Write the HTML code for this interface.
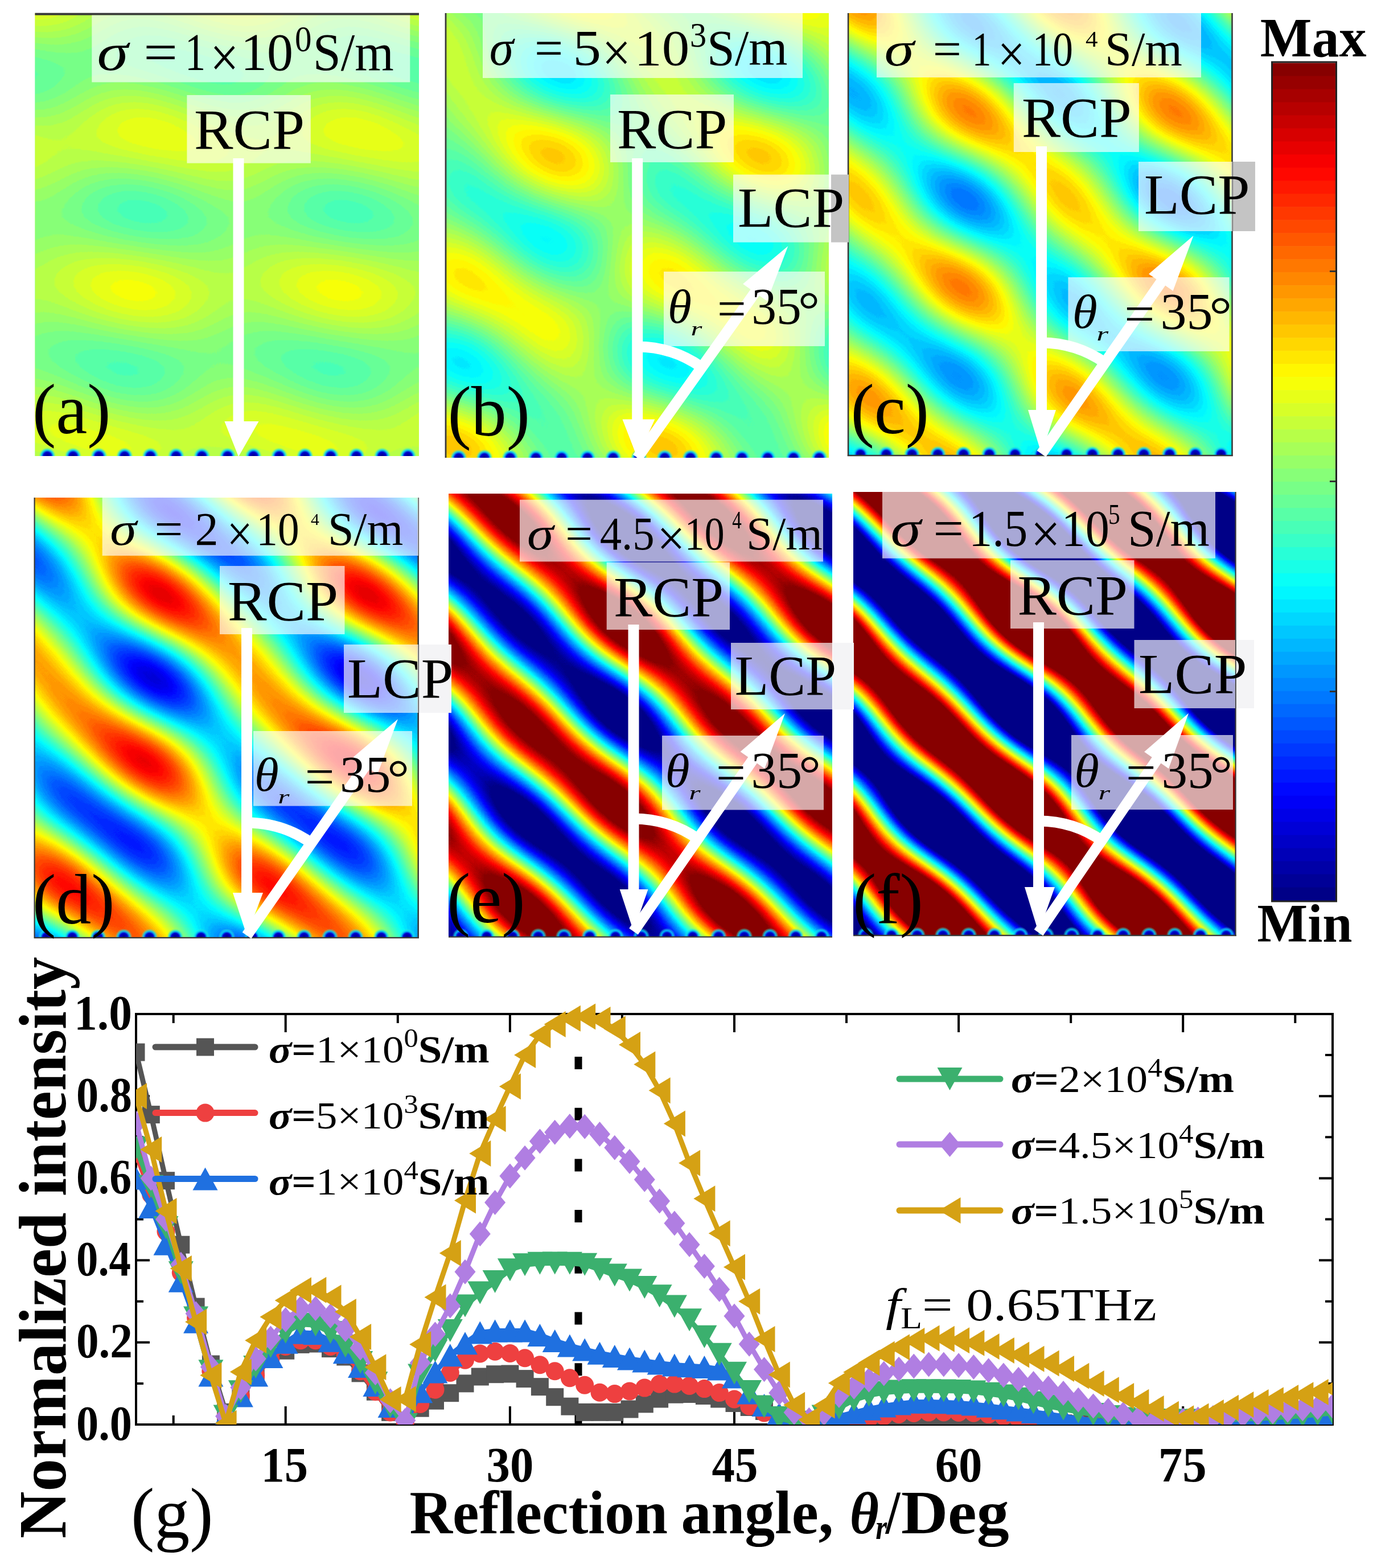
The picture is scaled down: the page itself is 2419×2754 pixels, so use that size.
<!DOCTYPE html><html><head><meta charset="utf-8"><style>html,body{margin:0;padding:0;background:#fff}svg{display:block}text{font-family:"Liberation Serif","Times New Roman",serif}</style></head><body>
<svg width="2419" height="2754" viewBox="0 0 2419 2754">
<defs><linearGradient id="ga0" gradientUnits="userSpaceOnUse" x1="91.50" y1="809.00" x2="255.80" y2="628.77" spreadMethod="repeat"><stop offset="0" stop-color="#636363"/><stop offset=".042" stop-color="#848484"/><stop offset=".083" stop-color="#a5a5a5"/><stop offset=".125" stop-color="#c3c3c3"/><stop offset=".167" stop-color="#dddddd"/><stop offset=".208" stop-color="#f0f0f0"/><stop offset=".25" stop-color="#fcfcfc"/><stop offset=".292" stop-color="#ffffff"/><stop offset=".333" stop-color="#f9f9f9"/><stop offset=".375" stop-color="#ececec"/><stop offset=".417" stop-color="#d6d6d6"/><stop offset=".458" stop-color="#bbbbbb"/><stop offset=".5" stop-color="#9c9c9c"/><stop offset=".542" stop-color="#7b7b7b"/><stop offset=".583" stop-color="#5a5a5a"/><stop offset=".625" stop-color="#3c3c3c"/><stop offset=".667" stop-color="#222222"/><stop offset=".708" stop-color="#0f0f0f"/><stop offset=".75" stop-color="#030303"/><stop offset=".792" stop-color="#000000"/><stop offset=".833" stop-color="#060606"/><stop offset=".875" stop-color="#131313"/><stop offset=".917" stop-color="#292929"/><stop offset=".958" stop-color="#444444"/><stop offset="1" stop-color="#636363"/></linearGradient><linearGradient id="ga1" gradientUnits="userSpaceOnUse" x1="91.50" y1="809.00" x2="91.50" y2="546.00" spreadMethod="repeat"><stop offset="0" stop-color="#cdcdcd"/><stop offset=".042" stop-color="#e4e4e4"/><stop offset=".083" stop-color="#f5f5f5"/><stop offset=".125" stop-color="#fefefe"/><stop offset=".167" stop-color="#fefefe"/><stop offset=".208" stop-color="#f5f5f5"/><stop offset=".25" stop-color="#e5e5e5"/><stop offset=".292" stop-color="#cdcdcd"/><stop offset=".333" stop-color="#b1b1b1"/><stop offset=".375" stop-color="#909090"/><stop offset=".417" stop-color="#6f6f6f"/><stop offset=".458" stop-color="#4f4f4f"/><stop offset=".5" stop-color="#323232"/><stop offset=".542" stop-color="#1b1b1b"/><stop offset=".583" stop-color="#0a0a0a"/><stop offset=".625" stop-color="#010101"/><stop offset=".667" stop-color="#010101"/><stop offset=".708" stop-color="#0a0a0a"/><stop offset=".75" stop-color="#1a1a1a"/><stop offset=".792" stop-color="#323232"/><stop offset=".833" stop-color="#4e4e4e"/><stop offset=".875" stop-color="#6f6f6f"/><stop offset=".917" stop-color="#909090"/><stop offset=".958" stop-color="#b0b0b0"/><stop offset="1" stop-color="#cdcdcd"/></linearGradient><linearGradient id="ga2" gradientUnits="userSpaceOnUse" x1="91.50" y1="809.00" x2="-72.80" y2="628.77" spreadMethod="repeat"><stop offset="0" stop-color="#030303"/><stop offset=".042" stop-color="#0f0f0f"/><stop offset=".083" stop-color="#222222"/><stop offset=".125" stop-color="#3b3b3b"/><stop offset=".167" stop-color="#5a5a5a"/><stop offset=".208" stop-color="#7a7a7a"/><stop offset=".25" stop-color="#9b9b9b"/><stop offset=".292" stop-color="#bbbbbb"/><stop offset=".333" stop-color="#d6d6d6"/><stop offset=".375" stop-color="#ebebeb"/><stop offset=".417" stop-color="#f9f9f9"/><stop offset=".458" stop-color="#ffffff"/><stop offset=".5" stop-color="#fcfcfc"/><stop offset=".542" stop-color="#f0f0f0"/><stop offset=".583" stop-color="#dddddd"/><stop offset=".625" stop-color="#c4c4c4"/><stop offset=".667" stop-color="#a5a5a5"/><stop offset=".708" stop-color="#858585"/><stop offset=".75" stop-color="#646464"/><stop offset=".792" stop-color="#444444"/><stop offset=".833" stop-color="#292929"/><stop offset=".875" stop-color="#141414"/><stop offset=".917" stop-color="#060606"/><stop offset=".958" stop-color="#000000"/><stop offset="1" stop-color="#030303"/></linearGradient><filter id="ja" filterUnits="userSpaceOnUse" x="61.5" y="23" width="674.5" height="778" color-interpolation-filters="sRGB"><feComponentTransfer><feFuncR type="discrete" tableValues=".281 .281 .281 .281 .281 .281 .281 .281 .281 .281 .281 .281 .281 .281 .281 .344 .344 .344 .344 .344 .344 .344 .344 .344 .344 .344 .344 .344 .344 .344 .344 .344 .344 .344 .344 .344 .344 .344 .406 .406 .406 .406 .406 .406 .406 .406 .406 .406 .406 .406 .406 .406 .406 .406 .406 .406 .406 .406 .406 .406 .406 .469 .469 .469 .469 .469 .469 .469 .469 .469 .469 .469 .469 .469 .469 .469 .469 .469 .469 .469 .469 .469 .469 .469 .531 .531 .531 .531 .531 .531 .531 .531 .531 .531 .531 .531 .531 .531 .531 .531 .531 .531 .531 .531 .531 .531 .531 .594 .594 .594 .594 .594 .594 .594 .594 .594 .594 .594 .594 .594 .594 .594 .594 .594 .594 .594 .594 .594 .594 .594 .656 .656 .656 .656 .656 .656 .656 .656 .656 .656 .656 .656 .656 .656 .656 .656 .656 .656 .656 .656 .656 .656 .656 .719 .719 .719 .719 .719 .719 .719 .719 .719 .719 .719 .719 .719 .719 .719 .719 .719 .719 .719 .719 .719 .719 .719 .781 .781 .781 .781 .781 .781 .781 .781 .781 .781 .781 .781 .781 .781 .781 .781 .781 .781 .781 .781 .781 .781 .781 .844 .844 .844 .844 .844 .844 .844 .844 .844 .844 .844 .844 .844 .844 .844 .844 .844 .844 .844 .844 .844 .844 .844 .906 .906 .906 .906 .906 .906 .906 .906 .906 .906 .906 .906 .906 .906 .906 .906 .906 .906 .906 .906 .906 .906 .969 .969 .969 .969 .969 .969 .969 .969 .969 .969 .969 .969"/><feFuncG type="discrete" tableValues="1 1 1 1 1 1 1 1 1 1 1 1 1 1 1 1 1 1 1 1 1 1 1 1 1 1 1 1 1 1 1 1 1 1 1 1 1 1 1 1 1 1 1 1 1 1 1 1 1 1 1 1 1 1 1 1 1 1 1 1 1 1 1 1 1 1 1 1 1 1 1 1 1 1 1 1 1 1 1 1 1 1 1 1 1 1 1 1 1 1 1 1 1 1 1 1 1 1 1 1 1 1 1 1 1 1 1 1 1 1 1 1 1 1 1 1 1 1 1 1 1 1 1 1 1 1 1 1 1 1 1 1 1 1 1 1 1 1 1 1 1 1 1 1 1 1 1 1 1 1 1 1 1 1 1 1 1 1 1 1 1 1 1 1 1 1 1 1 1 1 1 1 1 1 1 1 1 1 1 1 1 1 1 1 1 1 1 1 1 1 1 1 1 1 1 1 1 1 1 1 1 1 1 1 1 1 1 1 1 1 1 1 1 1 1 1 1 1 1 1 1 1 1 1 1 1 1 1 1 1 1 1 1 1 1 1 1 1 1 1 1 1 1 1 1 1 1 1 1 1 1 1 1 1 1 1"/><feFuncB type="discrete" tableValues=".719 .719 .719 .719 .719 .719 .719 .719 .719 .719 .719 .719 .719 .719 .719 .656 .656 .656 .656 .656 .656 .656 .656 .656 .656 .656 .656 .656 .656 .656 .656 .656 .656 .656 .656 .656 .656 .656 .594 .594 .594 .594 .594 .594 .594 .594 .594 .594 .594 .594 .594 .594 .594 .594 .594 .594 .594 .594 .594 .594 .594 .531 .531 .531 .531 .531 .531 .531 .531 .531 .531 .531 .531 .531 .531 .531 .531 .531 .531 .531 .531 .531 .531 .531 .469 .469 .469 .469 .469 .469 .469 .469 .469 .469 .469 .469 .469 .469 .469 .469 .469 .469 .469 .469 .469 .469 .469 .406 .406 .406 .406 .406 .406 .406 .406 .406 .406 .406 .406 .406 .406 .406 .406 .406 .406 .406 .406 .406 .406 .406 .344 .344 .344 .344 .344 .344 .344 .344 .344 .344 .344 .344 .344 .344 .344 .344 .344 .344 .344 .344 .344 .344 .344 .281 .281 .281 .281 .281 .281 .281 .281 .281 .281 .281 .281 .281 .281 .281 .281 .281 .281 .281 .281 .281 .281 .281 .219 .219 .219 .219 .219 .219 .219 .219 .219 .219 .219 .219 .219 .219 .219 .219 .219 .219 .219 .219 .219 .219 .219 .156 .156 .156 .156 .156 .156 .156 .156 .156 .156 .156 .156 .156 .156 .156 .156 .156 .156 .156 .156 .156 .156 .156 .094 .094 .094 .094 .094 .094 .094 .094 .094 .094 .094 .094 .094 .094 .094 .094 .094 .094 .094 .094 .094 .094 .031 .031 .031 .031 .031 .031 .031 .031 .031 .031 .031 .031"/></feComponentTransfer></filter><clipPath id="ca"><rect x="61.5" y="23" width="674.5" height="778"/></clipPath><linearGradient id="gb0" gradientUnits="userSpaceOnUse" x1="802.00" y1="816.00" x2="966.30" y2="635.77" spreadMethod="repeat"><stop offset="0" stop-color="#eaeaea"/><stop offset=".042" stop-color="#f9f9f9"/><stop offset=".083" stop-color="#ffffff"/><stop offset=".125" stop-color="#fcfcfc"/><stop offset=".167" stop-color="#f1f1f1"/><stop offset=".208" stop-color="#dfdfdf"/><stop offset=".25" stop-color="#c6c6c6"/><stop offset=".292" stop-color="#a8a8a8"/><stop offset=".333" stop-color="#878787"/><stop offset=".375" stop-color="#666666"/><stop offset=".417" stop-color="#464646"/><stop offset=".458" stop-color="#2b2b2b"/><stop offset=".5" stop-color="#151515"/><stop offset=".542" stop-color="#060606"/><stop offset=".583" stop-color="#000000"/><stop offset=".625" stop-color="#030303"/><stop offset=".667" stop-color="#0e0e0e"/><stop offset=".708" stop-color="#202020"/><stop offset=".75" stop-color="#393939"/><stop offset=".792" stop-color="#575757"/><stop offset=".833" stop-color="#787878"/><stop offset=".875" stop-color="#999999"/><stop offset=".917" stop-color="#b9b9b9"/><stop offset=".958" stop-color="#d4d4d4"/><stop offset="1" stop-color="#eaeaea"/></linearGradient><linearGradient id="gb1" gradientUnits="userSpaceOnUse" x1="802.00" y1="816.00" x2="802.00" y2="553.00" spreadMethod="repeat"><stop offset="0" stop-color="#e0e0e0"/><stop offset=".042" stop-color="#f2f2f2"/><stop offset=".083" stop-color="#fdfdfd"/><stop offset=".125" stop-color="#ffffff"/><stop offset=".167" stop-color="#f8f8f8"/><stop offset=".208" stop-color="#e9e9e9"/><stop offset=".25" stop-color="#d3d3d3"/><stop offset=".292" stop-color="#b8b8b8"/><stop offset=".333" stop-color="#989898"/><stop offset=".375" stop-color="#777777"/><stop offset=".417" stop-color="#565656"/><stop offset=".458" stop-color="#383838"/><stop offset=".5" stop-color="#1f1f1f"/><stop offset=".542" stop-color="#0d0d0d"/><stop offset=".583" stop-color="#020202"/><stop offset=".625" stop-color="#000000"/><stop offset=".667" stop-color="#070707"/><stop offset=".708" stop-color="#161616"/><stop offset=".75" stop-color="#2c2c2c"/><stop offset=".792" stop-color="#474747"/><stop offset=".833" stop-color="#676767"/><stop offset=".875" stop-color="#888888"/><stop offset=".917" stop-color="#a9a9a9"/><stop offset=".958" stop-color="#c7c7c7"/><stop offset="1" stop-color="#e0e0e0"/></linearGradient><linearGradient id="gb2" gradientUnits="userSpaceOnUse" x1="802.00" y1="816.00" x2="637.70" y2="635.77" spreadMethod="repeat"><stop offset="0" stop-color="#e3e3e3"/><stop offset=".042" stop-color="#f4f4f4"/><stop offset=".083" stop-color="#fdfdfd"/><stop offset=".125" stop-color="#fefefe"/><stop offset=".167" stop-color="#f6f6f6"/><stop offset=".208" stop-color="#e7e7e7"/><stop offset=".25" stop-color="#d0d0d0"/><stop offset=".292" stop-color="#b3b3b3"/><stop offset=".333" stop-color="#939393"/><stop offset=".375" stop-color="#727272"/><stop offset=".417" stop-color="#525252"/><stop offset=".458" stop-color="#343434"/><stop offset=".5" stop-color="#1c1c1c"/><stop offset=".542" stop-color="#0b0b0b"/><stop offset=".583" stop-color="#020202"/><stop offset=".625" stop-color="#010101"/><stop offset=".667" stop-color="#090909"/><stop offset=".708" stop-color="#181818"/><stop offset=".75" stop-color="#2f2f2f"/><stop offset=".792" stop-color="#4c4c4c"/><stop offset=".833" stop-color="#6c6c6c"/><stop offset=".875" stop-color="#8d8d8d"/><stop offset=".917" stop-color="#adadad"/><stop offset=".958" stop-color="#cbcbcb"/><stop offset="1" stop-color="#e3e3e3"/></linearGradient><filter id="jb" filterUnits="userSpaceOnUse" x="784" y="23" width="672" height="781" color-interpolation-filters="sRGB"><feComponentTransfer><feFuncR type="discrete" tableValues="0 0 0 0 0 0 0 0 0 0 0 0 0 0 0 0 0 0 0 0 0 0 .031 .031 .031 .031 .031 .031 .031 .031 .031 .031 .031 .031 .094 .094 .094 .094 .094 .094 .094 .094 .094 .094 .094 .094 .156 .156 .156 .156 .156 .156 .156 .156 .156 .156 .156 .156 .219 .219 .219 .219 .219 .219 .219 .219 .219 .219 .219 .219 .281 .281 .281 .281 .281 .281 .281 .281 .281 .281 .281 .344 .344 .344 .344 .344 .344 .344 .344 .344 .344 .344 .344 .406 .406 .406 .406 .406 .406 .406 .406 .406 .406 .406 .406 .469 .469 .469 .469 .469 .469 .469 .469 .469 .469 .469 .469 .531 .531 .531 .531 .531 .531 .531 .531 .531 .531 .531 .594 .594 .594 .594 .594 .594 .594 .594 .594 .594 .594 .594 .656 .656 .656 .656 .656 .656 .656 .656 .656 .656 .656 .656 .719 .719 .719 .719 .719 .719 .719 .719 .719 .719 .719 .719 .781 .781 .781 .781 .781 .781 .781 .781 .781 .781 .781 .781 .844 .844 .844 .844 .844 .844 .844 .844 .844 .844 .844 .906 .906 .906 .906 .906 .906 .906 .906 .906 .906 .906 .906 .969 .969 .969 .969 .969 .969 .969 .969 .969 .969 .969 .969 1 1 1 1 1 1 1 1 1 1 1 1 1 1 1 1 1 1 1 1 1 1 1 1 1 1 1 1 1 1 1 1 1 1 1 1 1 1 1 1 1 1 1 1 1"/><feFuncG type="discrete" tableValues=".906 .906 .906 .906 .906 .906 .906 .906 .906 .906 .906 .969 .969 .969 .969 .969 .969 .969 .969 .969 .969 .969 1 1 1 1 1 1 1 1 1 1 1 1 1 1 1 1 1 1 1 1 1 1 1 1 1 1 1 1 1 1 1 1 1 1 1 1 1 1 1 1 1 1 1 1 1 1 1 1 1 1 1 1 1 1 1 1 1 1 1 1 1 1 1 1 1 1 1 1 1 1 1 1 1 1 1 1 1 1 1 1 1 1 1 1 1 1 1 1 1 1 1 1 1 1 1 1 1 1 1 1 1 1 1 1 1 1 1 1 1 1 1 1 1 1 1 1 1 1 1 1 1 1 1 1 1 1 1 1 1 1 1 1 1 1 1 1 1 1 1 1 1 1 1 1 1 1 1 1 1 1 1 1 1 1 1 1 1 1 1 1 1 1 1 1 1 1 1 1 1 1 1 1 1 1 1 1 1 1 1 1 1 1 1 1 1 1 1 1 1 .969 .969 .969 .969 .969 .969 .969 .969 .969 .969 .969 .969 .906 .906 .906 .906 .906 .906 .906 .906 .906 .906 .906 .844 .844 .844 .844 .844 .844 .844 .844 .844 .844 .844 .844 .781 .781 .781 .781 .781 .781 .781 .781 .781 .781"/><feFuncB type="discrete" tableValues="1 1 1 1 1 1 1 1 1 1 1 1 1 1 1 1 1 1 1 1 1 1 .969 .969 .969 .969 .969 .969 .969 .969 .969 .969 .969 .969 .906 .906 .906 .906 .906 .906 .906 .906 .906 .906 .906 .906 .844 .844 .844 .844 .844 .844 .844 .844 .844 .844 .844 .844 .781 .781 .781 .781 .781 .781 .781 .781 .781 .781 .781 .781 .719 .719 .719 .719 .719 .719 .719 .719 .719 .719 .719 .656 .656 .656 .656 .656 .656 .656 .656 .656 .656 .656 .656 .594 .594 .594 .594 .594 .594 .594 .594 .594 .594 .594 .594 .531 .531 .531 .531 .531 .531 .531 .531 .531 .531 .531 .531 .469 .469 .469 .469 .469 .469 .469 .469 .469 .469 .469 .406 .406 .406 .406 .406 .406 .406 .406 .406 .406 .406 .406 .344 .344 .344 .344 .344 .344 .344 .344 .344 .344 .344 .344 .281 .281 .281 .281 .281 .281 .281 .281 .281 .281 .281 .281 .219 .219 .219 .219 .219 .219 .219 .219 .219 .219 .219 .219 .156 .156 .156 .156 .156 .156 .156 .156 .156 .156 .156 .094 .094 .094 .094 .094 .094 .094 .094 .094 .094 .094 .094 .031 .031 .031 .031 .031 .031 .031 .031 .031 .031 .031 .031 0 0 0 0 0 0 0 0 0 0 0 0 0 0 0 0 0 0 0 0 0 0 0 0 0 0 0 0 0 0 0 0 0 0 0 0 0 0 0 0 0 0 0 0 0"/></feComponentTransfer></filter><clipPath id="cb"><rect x="784" y="23" width="672" height="781"/></clipPath><linearGradient id="gc0" gradientUnits="userSpaceOnUse" x1="1490.00" y1="798.00" x2="1654.30" y2="617.77" spreadMethod="repeat"><stop offset="0" stop-color="#0d0d0d"/><stop offset=".042" stop-color="#202020"/><stop offset=".083" stop-color="#393939"/><stop offset=".125" stop-color="#575757"/><stop offset=".167" stop-color="#787878"/><stop offset=".208" stop-color="#999999"/><stop offset=".25" stop-color="#b9b9b9"/><stop offset=".292" stop-color="#d4d4d4"/><stop offset=".333" stop-color="#eaeaea"/><stop offset=".375" stop-color="#f8f8f8"/><stop offset=".417" stop-color="#ffffff"/><stop offset=".458" stop-color="#fcfcfc"/><stop offset=".5" stop-color="#f2f2f2"/><stop offset=".542" stop-color="#dfdfdf"/><stop offset=".583" stop-color="#c6c6c6"/><stop offset=".625" stop-color="#a8a8a8"/><stop offset=".667" stop-color="#878787"/><stop offset=".708" stop-color="#666666"/><stop offset=".75" stop-color="#464646"/><stop offset=".792" stop-color="#2b2b2b"/><stop offset=".833" stop-color="#151515"/><stop offset=".875" stop-color="#070707"/><stop offset=".917" stop-color="#000000"/><stop offset=".958" stop-color="#030303"/><stop offset="1" stop-color="#0d0d0d"/></linearGradient><linearGradient id="gc1" gradientUnits="userSpaceOnUse" x1="1490.00" y1="798.00" x2="1490.00" y2="535.00" spreadMethod="repeat"><stop offset="0" stop-color="#adadad"/><stop offset=".042" stop-color="#cacaca"/><stop offset=".083" stop-color="#e2e2e2"/><stop offset=".125" stop-color="#f4f4f4"/><stop offset=".167" stop-color="#fdfdfd"/><stop offset=".208" stop-color="#fefefe"/><stop offset=".25" stop-color="#f7f7f7"/><stop offset=".292" stop-color="#e7e7e7"/><stop offset=".333" stop-color="#d0d0d0"/><stop offset=".375" stop-color="#b4b4b4"/><stop offset=".417" stop-color="#949494"/><stop offset=".458" stop-color="#727272"/><stop offset=".5" stop-color="#525252"/><stop offset=".542" stop-color="#353535"/><stop offset=".583" stop-color="#1d1d1d"/><stop offset=".625" stop-color="#0b0b0b"/><stop offset=".667" stop-color="#020202"/><stop offset=".708" stop-color="#010101"/><stop offset=".75" stop-color="#080808"/><stop offset=".792" stop-color="#181818"/><stop offset=".833" stop-color="#2f2f2f"/><stop offset=".875" stop-color="#4b4b4b"/><stop offset=".917" stop-color="#6b6b6b"/><stop offset=".958" stop-color="#8d8d8d"/><stop offset="1" stop-color="#adadad"/></linearGradient><linearGradient id="gc2" gradientUnits="userSpaceOnUse" x1="1490.00" y1="798.00" x2="1325.70" y2="617.77" spreadMethod="repeat"><stop offset="0" stop-color="#595959"/><stop offset=".042" stop-color="#7a7a7a"/><stop offset=".083" stop-color="#9b9b9b"/><stop offset=".125" stop-color="#bababa"/><stop offset=".167" stop-color="#d6d6d6"/><stop offset=".208" stop-color="#ebebeb"/><stop offset=".25" stop-color="#f9f9f9"/><stop offset=".292" stop-color="#ffffff"/><stop offset=".333" stop-color="#fcfcfc"/><stop offset=".375" stop-color="#f1f1f1"/><stop offset=".417" stop-color="#dedede"/><stop offset=".458" stop-color="#c4c4c4"/><stop offset=".5" stop-color="#a6a6a6"/><stop offset=".542" stop-color="#858585"/><stop offset=".583" stop-color="#646464"/><stop offset=".625" stop-color="#454545"/><stop offset=".667" stop-color="#292929"/><stop offset=".708" stop-color="#141414"/><stop offset=".75" stop-color="#060606"/><stop offset=".792" stop-color="#000000"/><stop offset=".833" stop-color="#030303"/><stop offset=".875" stop-color="#0e0e0e"/><stop offset=".917" stop-color="#212121"/><stop offset=".958" stop-color="#3b3b3b"/><stop offset="1" stop-color="#595959"/></linearGradient><filter id="jc" filterUnits="userSpaceOnUse" x="1490" y="23" width="675" height="777" color-interpolation-filters="sRGB"><feComponentTransfer><feFuncR type="discrete" tableValues="0 0 0 0 0 0 0 0 0 0 0 0 0 0 0 0 0 0 0 0 0 0 0 0 0 0 0 0 0 0 0 0 0 0 0 0 0 0 0 0 0 0 0 0 0 0 0 0 0 0 0 0 0 0 0 0 0 0 0 0 0 0 0 0 0 0 0 0 .031 .031 .031 .031 .031 .031 .031 .094 .094 .094 .094 .094 .094 .094 .094 .156 .156 .156 .156 .156 .156 .156 .219 .219 .219 .219 .219 .219 .219 .219 .281 .281 .281 .281 .281 .281 .281 .344 .344 .344 .344 .344 .344 .344 .344 .406 .406 .406 .406 .406 .406 .406 .469 .469 .469 .469 .469 .469 .469 .469 .531 .531 .531 .531 .531 .531 .531 .531 .594 .594 .594 .594 .594 .594 .594 .656 .656 .656 .656 .656 .656 .656 .656 .719 .719 .719 .719 .719 .719 .719 .781 .781 .781 .781 .781 .781 .781 .781 .844 .844 .844 .844 .844 .844 .844 .906 .906 .906 .906 .906 .906 .906 .906 .969 .969 .969 .969 .969 .969 .969 1 1 1 1 1 1 1 1 1 1 1 1 1 1 1 1 1 1 1 1 1 1 1 1 1 1 1 1 1 1 1 1 1 1 1 1 1 1 1 1 1 1 1 1 1 1 1 1 1 1 1 1 1 1 1 1 1 1 1 1 1 1 1 1 1 1 1 1"/><feFuncG type="discrete" tableValues=".469 .469 .469 .469 .469 .469 .469 .469 .531 .531 .531 .531 .531 .531 .531 .594 .594 .594 .594 .594 .594 .594 .594 .656 .656 .656 .656 .656 .656 .656 .719 .719 .719 .719 .719 .719 .719 .719 .781 .781 .781 .781 .781 .781 .781 .844 .844 .844 .844 .844 .844 .844 .844 .906 .906 .906 .906 .906 .906 .906 .969 .969 .969 .969 .969 .969 .969 .969 1 1 1 1 1 1 1 1 1 1 1 1 1 1 1 1 1 1 1 1 1 1 1 1 1 1 1 1 1 1 1 1 1 1 1 1 1 1 1 1 1 1 1 1 1 1 1 1 1 1 1 1 1 1 1 1 1 1 1 1 1 1 1 1 1 1 1 1 1 1 1 1 1 1 1 1 1 1 1 1 1 1 1 1 1 1 1 1 1 1 1 1 1 1 1 1 1 1 1 1 1 1 1 1 1 1 1 1 1 1 1 1 1 1 1 1 1 1 1 1 .969 .969 .969 .969 .969 .969 .969 .969 .906 .906 .906 .906 .906 .906 .906 .844 .844 .844 .844 .844 .844 .844 .844 .781 .781 .781 .781 .781 .781 .781 .719 .719 .719 .719 .719 .719 .719 .719 .656 .656 .656 .656 .656 .656 .656 .594 .594 .594 .594 .594 .594 .594 .594 .531 .531 .531 .531 .531 .531 .531 .469 .469 .469 .469 .469 .469 .469 .469"/><feFuncB type="discrete" tableValues="1 1 1 1 1 1 1 1 1 1 1 1 1 1 1 1 1 1 1 1 1 1 1 1 1 1 1 1 1 1 1 1 1 1 1 1 1 1 1 1 1 1 1 1 1 1 1 1 1 1 1 1 1 1 1 1 1 1 1 1 1 1 1 1 1 1 1 1 .969 .969 .969 .969 .969 .969 .969 .906 .906 .906 .906 .906 .906 .906 .906 .844 .844 .844 .844 .844 .844 .844 .781 .781 .781 .781 .781 .781 .781 .781 .719 .719 .719 .719 .719 .719 .719 .656 .656 .656 .656 .656 .656 .656 .656 .594 .594 .594 .594 .594 .594 .594 .531 .531 .531 .531 .531 .531 .531 .531 .469 .469 .469 .469 .469 .469 .469 .469 .406 .406 .406 .406 .406 .406 .406 .344 .344 .344 .344 .344 .344 .344 .344 .281 .281 .281 .281 .281 .281 .281 .219 .219 .219 .219 .219 .219 .219 .219 .156 .156 .156 .156 .156 .156 .156 .094 .094 .094 .094 .094 .094 .094 .094 .031 .031 .031 .031 .031 .031 .031 0 0 0 0 0 0 0 0 0 0 0 0 0 0 0 0 0 0 0 0 0 0 0 0 0 0 0 0 0 0 0 0 0 0 0 0 0 0 0 0 0 0 0 0 0 0 0 0 0 0 0 0 0 0 0 0 0 0 0 0 0 0 0 0 0 0 0 0"/></feComponentTransfer></filter><clipPath id="cc"><rect x="1490" y="23" width="675" height="777"/></clipPath><linearGradient id="gd0" gradientUnits="userSpaceOnUse" x1="36.00" y1="1631.00" x2="200.30" y2="1450.77" spreadMethod="repeat"><stop offset="0" stop-color="#020202"/><stop offset=".042" stop-color="#0b0b0b"/><stop offset=".083" stop-color="#1c1c1c"/><stop offset=".125" stop-color="#343434"/><stop offset=".167" stop-color="#525252"/><stop offset=".208" stop-color="#727272"/><stop offset=".25" stop-color="#939393"/><stop offset=".292" stop-color="#b3b3b3"/><stop offset=".333" stop-color="#d0d0d0"/><stop offset=".375" stop-color="#e7e7e7"/><stop offset=".417" stop-color="#f7f7f7"/><stop offset=".458" stop-color="#fefefe"/><stop offset=".5" stop-color="#fdfdfd"/><stop offset=".542" stop-color="#f4f4f4"/><stop offset=".583" stop-color="#e3e3e3"/><stop offset=".625" stop-color="#cbcbcb"/><stop offset=".667" stop-color="#adadad"/><stop offset=".708" stop-color="#8d8d8d"/><stop offset=".75" stop-color="#6c6c6c"/><stop offset=".792" stop-color="#4c4c4c"/><stop offset=".833" stop-color="#2f2f2f"/><stop offset=".875" stop-color="#181818"/><stop offset=".917" stop-color="#080808"/><stop offset=".958" stop-color="#010101"/><stop offset="1" stop-color="#020202"/></linearGradient><linearGradient id="gd1" gradientUnits="userSpaceOnUse" x1="36.00" y1="1631.00" x2="36.00" y2="1368.00" spreadMethod="repeat"><stop offset="0" stop-color="#b2b2b2"/><stop offset=".042" stop-color="#cfcfcf"/><stop offset=".083" stop-color="#e6e6e6"/><stop offset=".125" stop-color="#f6f6f6"/><stop offset=".167" stop-color="#fefefe"/><stop offset=".208" stop-color="#fefefe"/><stop offset=".25" stop-color="#f4f4f4"/><stop offset=".292" stop-color="#e3e3e3"/><stop offset=".333" stop-color="#cbcbcb"/><stop offset=".375" stop-color="#aeaeae"/><stop offset=".417" stop-color="#8e8e8e"/><stop offset=".458" stop-color="#6d6d6d"/><stop offset=".5" stop-color="#4d4d4d"/><stop offset=".542" stop-color="#303030"/><stop offset=".583" stop-color="#191919"/><stop offset=".625" stop-color="#090909"/><stop offset=".667" stop-color="#010101"/><stop offset=".708" stop-color="#010101"/><stop offset=".75" stop-color="#0b0b0b"/><stop offset=".792" stop-color="#1c1c1c"/><stop offset=".833" stop-color="#343434"/><stop offset=".875" stop-color="#515151"/><stop offset=".917" stop-color="#717171"/><stop offset=".958" stop-color="#929292"/><stop offset="1" stop-color="#b2b2b2"/></linearGradient><linearGradient id="gd2" gradientUnits="userSpaceOnUse" x1="36.00" y1="1631.00" x2="-128.30" y2="1450.77" spreadMethod="repeat"><stop offset="0" stop-color="#b5b5b5"/><stop offset=".042" stop-color="#d1d1d1"/><stop offset=".083" stop-color="#e8e8e8"/><stop offset=".125" stop-color="#f7f7f7"/><stop offset=".167" stop-color="#fefefe"/><stop offset=".208" stop-color="#fdfdfd"/><stop offset=".25" stop-color="#f3f3f3"/><stop offset=".292" stop-color="#e2e2e2"/><stop offset=".333" stop-color="#c9c9c9"/><stop offset=".375" stop-color="#acacac"/><stop offset=".417" stop-color="#8b8b8b"/><stop offset=".458" stop-color="#6a6a6a"/><stop offset=".5" stop-color="#4a4a4a"/><stop offset=".542" stop-color="#2e2e2e"/><stop offset=".583" stop-color="#171717"/><stop offset=".625" stop-color="#080808"/><stop offset=".667" stop-color="#010101"/><stop offset=".708" stop-color="#020202"/><stop offset=".75" stop-color="#0c0c0c"/><stop offset=".792" stop-color="#1d1d1d"/><stop offset=".833" stop-color="#363636"/><stop offset=".875" stop-color="#535353"/><stop offset=".917" stop-color="#747474"/><stop offset=".958" stop-color="#959595"/><stop offset="1" stop-color="#b5b5b5"/></linearGradient><filter id="jd" filterUnits="userSpaceOnUse" x="60" y="874" width="675" height="773" color-interpolation-filters="sRGB"><feComponentTransfer><feFuncR type="discrete" tableValues="0 0 0 0 0 0 0 0 0 0 0 0 0 0 0 0 0 0 0 0 0 0 0 0 0 0 0 0 0 0 0 0 0 0 0 0 0 0 0 0 0 0 0 0 0 0 0 0 0 0 0 0 0 0 0 0 0 0 0 0 0 0 0 0 0 0 0 0 0 0 0 0 0 0 0 0 0 0 0 0 0 0 0 0 0 0 0 0 0 0 .031 .031 .031 .031 .094 .094 .094 .094 .094 .156 .156 .156 .156 .156 .219 .219 .219 .219 .219 .281 .281 .281 .281 .281 .344 .344 .344 .344 .406 .406 .406 .406 .406 .469 .469 .469 .469 .469 .531 .531 .531 .531 .531 .594 .594 .594 .594 .594 .656 .656 .656 .656 .719 .719 .719 .719 .719 .781 .781 .781 .781 .781 .844 .844 .844 .844 .844 .906 .906 .906 .906 .906 .969 .969 .969 .969 1 1 1 1 1 1 1 1 1 1 1 1 1 1 1 1 1 1 1 1 1 1 1 1 1 1 1 1 1 1 1 1 1 1 1 1 1 1 1 1 1 1 1 1 1 1 1 1 1 1 1 1 1 1 1 1 1 1 1 1 1 1 1 1 1 1 1 1 1 1 1 1 1 1 1 1 1 .969 .969 .969 .969 .969 .906 .906 .906 .906 .906 .844 .844 .844"/><feFuncG type="discrete" tableValues="0 0 0 0 0 0 0 0 0 0 0 0 0 .031 .031 .031 .031 .094 .094 .094 .094 .094 .156 .156 .156 .156 .156 .219 .219 .219 .219 .219 .281 .281 .281 .281 .281 .344 .344 .344 .344 .344 .406 .406 .406 .406 .469 .469 .469 .469 .469 .531 .531 .531 .531 .531 .594 .594 .594 .594 .594 .656 .656 .656 .656 .656 .719 .719 .719 .719 .781 .781 .781 .781 .781 .844 .844 .844 .844 .844 .906 .906 .906 .906 .906 .969 .969 .969 .969 .969 1 1 1 1 1 1 1 1 1 1 1 1 1 1 1 1 1 1 1 1 1 1 1 1 1 1 1 1 1 1 1 1 1 1 1 1 1 1 1 1 1 1 1 1 1 1 1 1 1 1 1 1 1 1 1 1 1 1 1 1 1 1 1 1 1 1 1 1 1 1 1 1 1 1 1 1 .969 .969 .969 .969 .969 .906 .906 .906 .906 .906 .844 .844 .844 .844 .844 .781 .781 .781 .781 .781 .719 .719 .719 .719 .656 .656 .656 .656 .656 .594 .594 .594 .594 .594 .531 .531 .531 .531 .531 .469 .469 .469 .469 .469 .406 .406 .406 .406 .344 .344 .344 .344 .344 .281 .281 .281 .281 .281 .219 .219 .219 .219 .219 .156 .156 .156 .156 .156 .094 .094 .094 .094 .094 .031 .031 .031 .031 0 0 0 0 0 0 0 0 0 0 0 0 0"/><feFuncB type="discrete" tableValues=".844 .844 .844 .906 .906 .906 .906 .906 .969 .969 .969 .969 .969 1 1 1 1 1 1 1 1 1 1 1 1 1 1 1 1 1 1 1 1 1 1 1 1 1 1 1 1 1 1 1 1 1 1 1 1 1 1 1 1 1 1 1 1 1 1 1 1 1 1 1 1 1 1 1 1 1 1 1 1 1 1 1 1 1 1 1 1 1 1 1 1 1 1 1 1 1 .969 .969 .969 .969 .906 .906 .906 .906 .906 .844 .844 .844 .844 .844 .781 .781 .781 .781 .781 .719 .719 .719 .719 .719 .656 .656 .656 .656 .594 .594 .594 .594 .594 .531 .531 .531 .531 .531 .469 .469 .469 .469 .469 .406 .406 .406 .406 .406 .344 .344 .344 .344 .281 .281 .281 .281 .281 .219 .219 .219 .219 .219 .156 .156 .156 .156 .156 .094 .094 .094 .094 .094 .031 .031 .031 .031 0 0 0 0 0 0 0 0 0 0 0 0 0 0 0 0 0 0 0 0 0 0 0 0 0 0 0 0 0 0 0 0 0 0 0 0 0 0 0 0 0 0 0 0 0 0 0 0 0 0 0 0 0 0 0 0 0 0 0 0 0 0 0 0 0 0 0 0 0 0 0 0 0 0 0 0 0 0 0 0 0 0 0 0 0 0 0 0 0 0"/></feComponentTransfer></filter><clipPath id="cd"><rect x="60" y="874" width="675" height="773"/></clipPath><linearGradient id="ge0" gradientUnits="userSpaceOnUse" x1="788.00" y1="1645.00" x2="952.30" y2="1464.77" spreadMethod="repeat"><stop offset="0" stop-color="#000000"/><stop offset=".042" stop-color="#020202"/><stop offset=".083" stop-color="#0d0d0d"/><stop offset=".125" stop-color="#202020"/><stop offset=".167" stop-color="#393939"/><stop offset=".208" stop-color="#565656"/><stop offset=".25" stop-color="#777777"/><stop offset=".292" stop-color="#989898"/><stop offset=".333" stop-color="#b8b8b8"/><stop offset=".375" stop-color="#d3d3d3"/><stop offset=".417" stop-color="#e9e9e9"/><stop offset=".458" stop-color="#f8f8f8"/><stop offset=".5" stop-color="#ffffff"/><stop offset=".542" stop-color="#fdfdfd"/><stop offset=".583" stop-color="#f2f2f2"/><stop offset=".625" stop-color="#dfdfdf"/><stop offset=".667" stop-color="#c6c6c6"/><stop offset=".708" stop-color="#a9a9a9"/><stop offset=".75" stop-color="#888888"/><stop offset=".792" stop-color="#676767"/><stop offset=".833" stop-color="#474747"/><stop offset=".875" stop-color="#2c2c2c"/><stop offset=".917" stop-color="#161616"/><stop offset=".958" stop-color="#070707"/><stop offset="1" stop-color="#000000"/></linearGradient><linearGradient id="ge1" gradientUnits="userSpaceOnUse" x1="788.00" y1="1645.00" x2="788.00" y2="1382.00" spreadMethod="repeat"><stop offset="0" stop-color="#f6f6f6"/><stop offset=".042" stop-color="#fefefe"/><stop offset=".083" stop-color="#fefefe"/><stop offset=".125" stop-color="#f5f5f5"/><stop offset=".167" stop-color="#e4e4e4"/><stop offset=".208" stop-color="#cccccc"/><stop offset=".25" stop-color="#afafaf"/><stop offset=".292" stop-color="#8f8f8f"/><stop offset=".333" stop-color="#6d6d6d"/><stop offset=".375" stop-color="#4d4d4d"/><stop offset=".417" stop-color="#313131"/><stop offset=".458" stop-color="#191919"/><stop offset=".5" stop-color="#090909"/><stop offset=".542" stop-color="#010101"/><stop offset=".583" stop-color="#010101"/><stop offset=".625" stop-color="#0a0a0a"/><stop offset=".667" stop-color="#1b1b1b"/><stop offset=".708" stop-color="#333333"/><stop offset=".75" stop-color="#505050"/><stop offset=".792" stop-color="#707070"/><stop offset=".833" stop-color="#929292"/><stop offset=".875" stop-color="#b2b2b2"/><stop offset=".917" stop-color="#cecece"/><stop offset=".958" stop-color="#e6e6e6"/><stop offset="1" stop-color="#f6f6f6"/></linearGradient><linearGradient id="ge2" gradientUnits="userSpaceOnUse" x1="788.00" y1="1645.00" x2="623.70" y2="1464.77" spreadMethod="repeat"><stop offset="0" stop-color="#b8b8b8"/><stop offset=".042" stop-color="#999999"/><stop offset=".083" stop-color="#777777"/><stop offset=".125" stop-color="#575757"/><stop offset=".167" stop-color="#393939"/><stop offset=".208" stop-color="#202020"/><stop offset=".25" stop-color="#0d0d0d"/><stop offset=".292" stop-color="#020202"/><stop offset=".333" stop-color="#000000"/><stop offset=".375" stop-color="#070707"/><stop offset=".417" stop-color="#151515"/><stop offset=".458" stop-color="#2b2b2b"/><stop offset=".5" stop-color="#474747"/><stop offset=".542" stop-color="#666666"/><stop offset=".583" stop-color="#888888"/><stop offset=".625" stop-color="#a8a8a8"/><stop offset=".667" stop-color="#c6c6c6"/><stop offset=".708" stop-color="#dfdfdf"/><stop offset=".75" stop-color="#f2f2f2"/><stop offset=".792" stop-color="#fdfdfd"/><stop offset=".833" stop-color="#ffffff"/><stop offset=".875" stop-color="#f8f8f8"/><stop offset=".917" stop-color="#eaeaea"/><stop offset=".958" stop-color="#d4d4d4"/><stop offset="1" stop-color="#b8b8b8"/></linearGradient><filter id="je" filterUnits="userSpaceOnUse" x="788" y="867" width="674" height="779" color-interpolation-filters="sRGB"><feComponentTransfer><feFuncR type="discrete" tableValues="0 0 0 0 0 0 0 0 0 0 0 0 0 0 0 0 0 0 0 0 0 0 0 0 0 0 0 0 0 0 0 0 0 0 0 0 0 0 0 0 0 0 0 0 0 0 0 0 0 0 0 0 0 0 0 0 0 0 0 0 0 0 0 0 0 0 0 0 0 0 0 0 0 0 0 0 0 0 0 0 0 0 0 0 0 0 0 0 0 0 0 0 0 0 0 0 0 0 0 0 0 0 0 0 0 .031 .031 .031 .094 .094 .156 .156 .156 .219 .219 .219 .281 .281 .281 .344 .344 .344 .406 .406 .406 .469 .469 .469 .531 .531 .531 .594 .594 .594 .656 .656 .656 .719 .719 .719 .781 .781 .781 .844 .844 .844 .906 .906 .969 .969 .969 1 1 1 1 1 1 1 1 1 1 1 1 1 1 1 1 1 1 1 1 1 1 1 1 1 1 1 1 1 1 1 1 1 1 1 1 1 1 1 1 1 1 1 1 1 1 1 .969 .969 .969 .906 .906 .906 .844 .844 .844 .781 .781 .781 .719 .719 .719 .656 .656 .656 .594 .594 .594 .531 .531 .531 .531 .531 .531 .531 .531 .531 .531 .531 .531 .531 .531 .531 .531 .531 .531 .531 .531 .531 .531 .531 .531 .531 .531 .531 .531 .531 .531 .531 .531 .531 .531 .531 .531 .531"/><feFuncG type="discrete" tableValues="0 0 0 0 0 0 0 0 0 0 0 0 0 0 0 0 0 0 0 0 0 0 0 0 0 0 0 0 0 0 0 0 0 0 0 0 0 0 0 0 0 0 0 0 0 0 0 0 0 0 0 0 0 0 0 0 0 0 .031 .031 .031 .094 .094 .094 .156 .156 .156 .219 .219 .219 .281 .281 .344 .344 .344 .406 .406 .406 .469 .469 .469 .531 .531 .531 .594 .594 .594 .656 .656 .656 .719 .719 .719 .781 .781 .781 .844 .844 .844 .906 .906 .906 .969 .969 .969 1 1 1 1 1 1 1 1 1 1 1 1 1 1 1 1 1 1 1 1 1 1 1 1 1 1 1 1 1 1 1 1 1 1 1 1 1 1 1 1 1 1 1 1 1 1 .969 .969 .969 .906 .906 .906 .844 .844 .844 .781 .781 .781 .719 .719 .719 .656 .656 .656 .594 .594 .594 .531 .531 .531 .469 .469 .469 .406 .406 .406 .344 .344 .344 .281 .281 .219 .219 .219 .156 .156 .156 .094 .094 .094 .031 .031 .031 0 0 0 0 0 0 0 0 0 0 0 0 0 0 0 0 0 0 0 0 0 0 0 0 0 0 0 0 0 0 0 0 0 0 0 0 0 0 0 0 0 0 0 0 0 0 0 0 0 0 0 0 0 0 0 0 0 0"/><feFuncB type="discrete" tableValues=".531 .531 .531 .531 .531 .531 .531 .531 .531 .531 .531 .531 .531 .531 .531 .531 .531 .531 .531 .531 .531 .531 .531 .531 .531 .531 .531 .531 .531 .531 .531 .531 .531 .531 .531 .531 .531 .594 .594 .594 .656 .656 .656 .719 .719 .719 .781 .781 .781 .844 .844 .844 .906 .906 .906 .969 .969 .969 1 1 1 1 1 1 1 1 1 1 1 1 1 1 1 1 1 1 1 1 1 1 1 1 1 1 1 1 1 1 1 1 1 1 1 1 1 1 1 1 1 1 1 1 1 1 1 .969 .969 .969 .906 .906 .844 .844 .844 .781 .781 .781 .719 .719 .719 .656 .656 .656 .594 .594 .594 .531 .531 .531 .469 .469 .469 .406 .406 .406 .344 .344 .344 .281 .281 .281 .219 .219 .219 .156 .156 .156 .094 .094 .031 .031 .031 0 0 0 0 0 0 0 0 0 0 0 0 0 0 0 0 0 0 0 0 0 0 0 0 0 0 0 0 0 0 0 0 0 0 0 0 0 0 0 0 0 0 0 0 0 0 0 0 0 0 0 0 0 0 0 0 0 0 0 0 0 0 0 0 0 0 0 0 0 0 0 0 0 0 0 0 0 0 0 0 0 0 0 0 0 0 0 0 0 0 0 0 0 0 0 0 0 0 0 0 0 0 0 0 0"/></feComponentTransfer></filter><clipPath id="ce"><rect x="788" y="867" width="674" height="779"/></clipPath><linearGradient id="gf0" gradientUnits="userSpaceOnUse" x1="1499.00" y1="1643.00" x2="1663.30" y2="1462.77" spreadMethod="repeat"><stop offset="0" stop-color="#000000"/><stop offset=".042" stop-color="#020202"/><stop offset=".083" stop-color="#0d0d0d"/><stop offset=".125" stop-color="#202020"/><stop offset=".167" stop-color="#393939"/><stop offset=".208" stop-color="#565656"/><stop offset=".25" stop-color="#777777"/><stop offset=".292" stop-color="#989898"/><stop offset=".333" stop-color="#b8b8b8"/><stop offset=".375" stop-color="#d3d3d3"/><stop offset=".417" stop-color="#e9e9e9"/><stop offset=".458" stop-color="#f8f8f8"/><stop offset=".5" stop-color="#ffffff"/><stop offset=".542" stop-color="#fdfdfd"/><stop offset=".583" stop-color="#f2f2f2"/><stop offset=".625" stop-color="#dfdfdf"/><stop offset=".667" stop-color="#c6c6c6"/><stop offset=".708" stop-color="#a9a9a9"/><stop offset=".75" stop-color="#888888"/><stop offset=".792" stop-color="#676767"/><stop offset=".833" stop-color="#474747"/><stop offset=".875" stop-color="#2c2c2c"/><stop offset=".917" stop-color="#161616"/><stop offset=".958" stop-color="#070707"/><stop offset="1" stop-color="#000000"/></linearGradient><linearGradient id="gf1" gradientUnits="userSpaceOnUse" x1="1499.00" y1="1643.00" x2="1499.00" y2="1380.00" spreadMethod="repeat"><stop offset="0" stop-color="#f6f6f6"/><stop offset=".042" stop-color="#fefefe"/><stop offset=".083" stop-color="#fefefe"/><stop offset=".125" stop-color="#f5f5f5"/><stop offset=".167" stop-color="#e4e4e4"/><stop offset=".208" stop-color="#cccccc"/><stop offset=".25" stop-color="#afafaf"/><stop offset=".292" stop-color="#8f8f8f"/><stop offset=".333" stop-color="#6d6d6d"/><stop offset=".375" stop-color="#4d4d4d"/><stop offset=".417" stop-color="#313131"/><stop offset=".458" stop-color="#191919"/><stop offset=".5" stop-color="#090909"/><stop offset=".542" stop-color="#010101"/><stop offset=".583" stop-color="#010101"/><stop offset=".625" stop-color="#0a0a0a"/><stop offset=".667" stop-color="#1b1b1b"/><stop offset=".708" stop-color="#333333"/><stop offset=".75" stop-color="#505050"/><stop offset=".792" stop-color="#707070"/><stop offset=".833" stop-color="#929292"/><stop offset=".875" stop-color="#b2b2b2"/><stop offset=".917" stop-color="#cecece"/><stop offset=".958" stop-color="#e6e6e6"/><stop offset="1" stop-color="#f6f6f6"/></linearGradient><linearGradient id="gf2" gradientUnits="userSpaceOnUse" x1="1499.00" y1="1643.00" x2="1334.70" y2="1462.77" spreadMethod="repeat"><stop offset="0" stop-color="#b8b8b8"/><stop offset=".042" stop-color="#999999"/><stop offset=".083" stop-color="#777777"/><stop offset=".125" stop-color="#575757"/><stop offset=".167" stop-color="#393939"/><stop offset=".208" stop-color="#202020"/><stop offset=".25" stop-color="#0d0d0d"/><stop offset=".292" stop-color="#020202"/><stop offset=".333" stop-color="#000000"/><stop offset=".375" stop-color="#070707"/><stop offset=".417" stop-color="#151515"/><stop offset=".458" stop-color="#2b2b2b"/><stop offset=".5" stop-color="#474747"/><stop offset=".542" stop-color="#666666"/><stop offset=".583" stop-color="#888888"/><stop offset=".625" stop-color="#a8a8a8"/><stop offset=".667" stop-color="#c6c6c6"/><stop offset=".708" stop-color="#dfdfdf"/><stop offset=".75" stop-color="#f2f2f2"/><stop offset=".792" stop-color="#fdfdfd"/><stop offset=".833" stop-color="#ffffff"/><stop offset=".875" stop-color="#f8f8f8"/><stop offset=".917" stop-color="#eaeaea"/><stop offset=".958" stop-color="#d4d4d4"/><stop offset="1" stop-color="#b8b8b8"/></linearGradient><filter id="jf" filterUnits="userSpaceOnUse" x="1499" y="864" width="672" height="779" color-interpolation-filters="sRGB"><feComponentTransfer><feFuncR type="discrete" tableValues="0 0 0 0 0 0 0 0 0 0 0 0 0 0 0 0 0 0 0 0 0 0 0 0 0 0 0 0 0 0 0 0 0 0 0 0 0 0 0 0 0 0 0 0 0 0 0 0 0 0 0 0 0 0 0 0 0 0 0 0 0 0 0 0 0 0 0 0 0 0 0 0 0 0 0 0 0 0 0 0 0 0 0 0 0 0 0 0 0 0 0 0 0 0 0 0 0 0 0 0 0 0 0 0 0 0 0 0 0 0 0 0 .031 .031 .094 .094 .156 .156 .219 .219 .281 .281 .344 .344 .406 .406 .469 .469 .531 .531 .594 .594 .656 .656 .719 .719 .781 .781 .844 .844 .906 .906 .969 .969 1 1 1 1 1 1 1 1 1 1 1 1 1 1 1 1 1 1 1 1 1 1 1 1 1 1 1 1 1 1 1 1 1 .969 .969 .906 .906 .844 .844 .781 .781 .719 .719 .656 .656 .594 .594 .531 .531 .531 .531 .531 .531 .531 .531 .531 .531 .531 .531 .531 .531 .531 .531 .531 .531 .531 .531 .531 .531 .531 .531 .531 .531 .531 .531 .531 .531 .531 .531 .531 .531 .531 .531 .531 .531 .531 .531 .531 .531 .531 .531 .531 .531 .531 .531 .531 .531 .531 .531 .531 .531 .531 .531 .531 .531 .531 .531 .531 .531 .531 .531 .531"/><feFuncG type="discrete" tableValues="0 0 0 0 0 0 0 0 0 0 0 0 0 0 0 0 0 0 0 0 0 0 0 0 0 0 0 0 0 0 0 0 0 0 0 0 0 0 0 0 0 0 0 0 0 0 0 0 0 0 0 0 0 0 0 0 0 0 0 0 0 0 0 0 0 0 0 0 0 0 0 0 0 0 0 0 0 0 0 .031 .031 .094 .094 .156 .156 .219 .219 .281 .281 .344 .344 .406 .406 .469 .469 .531 .531 .594 .594 .656 .656 .719 .719 .781 .781 .844 .844 .844 .906 .906 .969 .969 1 1 1 1 1 1 1 1 1 1 1 1 1 1 1 1 1 1 1 1 1 1 1 1 1 1 1 1 1 1 1 1 .969 .969 .906 .906 .844 .844 .844 .781 .781 .719 .719 .656 .656 .594 .594 .531 .531 .469 .469 .406 .406 .344 .344 .281 .281 .219 .219 .156 .156 .094 .094 .031 .031 0 0 0 0 0 0 0 0 0 0 0 0 0 0 0 0 0 0 0 0 0 0 0 0 0 0 0 0 0 0 0 0 0 0 0 0 0 0 0 0 0 0 0 0 0 0 0 0 0 0 0 0 0 0 0 0 0 0 0 0 0 0 0 0 0 0 0 0 0 0 0 0 0 0 0 0 0 0 0"/><feFuncB type="discrete" tableValues=".531 .531 .531 .531 .531 .531 .531 .531 .531 .531 .531 .531 .531 .531 .531 .531 .531 .531 .531 .531 .531 .531 .531 .531 .531 .531 .531 .531 .531 .531 .531 .531 .531 .531 .531 .531 .531 .531 .531 .531 .531 .531 .531 .531 .531 .531 .531 .531 .531 .531 .531 .531 .531 .531 .531 .531 .531 .531 .531 .531 .531 .531 .531 .531 .531 .594 .594 .656 .656 .719 .719 .781 .781 .844 .844 .906 .906 .969 .969 1 1 1 1 1 1 1 1 1 1 1 1 1 1 1 1 1 1 1 1 1 1 1 1 1 1 1 1 1 1 1 1 1 .969 .969 .906 .906 .844 .844 .781 .781 .719 .719 .656 .656 .594 .594 .531 .531 .469 .469 .406 .406 .344 .344 .281 .281 .219 .219 .156 .156 .094 .094 .031 .031 0 0 0 0 0 0 0 0 0 0 0 0 0 0 0 0 0 0 0 0 0 0 0 0 0 0 0 0 0 0 0 0 0 0 0 0 0 0 0 0 0 0 0 0 0 0 0 0 0 0 0 0 0 0 0 0 0 0 0 0 0 0 0 0 0 0 0 0 0 0 0 0 0 0 0 0 0 0 0 0 0 0 0 0 0 0 0 0 0 0 0 0 0 0 0 0 0 0 0 0 0 0 0 0 0 0 0 0 0 0 0 0"/></feComponentTransfer></filter><clipPath id="cf"><rect x="1499" y="864" width="672" height="779"/></clipPath><radialGradient id="dot"><stop offset="0" stop-color="#000080"/><stop offset=".45" stop-color="#0000d0"/><stop offset=".7" stop-color="#00c8ff" stop-opacity=".9"/><stop offset="1" stop-color="#40ffc0" stop-opacity="0"/></radialGradient></defs>
<rect width="2419" height="2754" fill="#fff"/>
<g filter="url(#ja)"><rect x="61.5" y="23" width="674.5" height="778" fill="url(#ga0)"/><rect x="61.5" y="23" width="674.5" height="778" fill="url(#ga1)" opacity=".69"/><rect x="61.5" y="23" width="674.5" height="778" fill="url(#ga2)" opacity=".094"/></g>
<g clip-path="url(#ca)"><circle cx="83.2" cy="801" r="15" fill="url(#dot)"/><circle cx="128.4" cy="801" r="15" fill="url(#dot)"/><circle cx="173.7" cy="801" r="15" fill="url(#dot)"/><circle cx="218.9" cy="801" r="15" fill="url(#dot)"/><circle cx="264.2" cy="801" r="15" fill="url(#dot)"/><circle cx="309.4" cy="801" r="15" fill="url(#dot)"/><circle cx="354.7" cy="801" r="15" fill="url(#dot)"/><circle cx="399.9" cy="801" r="15" fill="url(#dot)"/><circle cx="445.2" cy="801" r="15" fill="url(#dot)"/><circle cx="490.4" cy="801" r="15" fill="url(#dot)"/><circle cx="535.7" cy="801" r="15" fill="url(#dot)"/><circle cx="580.9" cy="801" r="15" fill="url(#dot)"/><circle cx="626.2" cy="801" r="15" fill="url(#dot)"/><circle cx="671.4" cy="801" r="15" fill="url(#dot)"/><circle cx="716.7" cy="801" r="15" fill="url(#dot)"/></g>
<g filter="url(#jb)"><rect x="784" y="23" width="672" height="781" fill="url(#gb0)"/><rect x="784" y="23" width="672" height="781" fill="url(#gb1)" opacity=".395"/><rect x="784" y="23" width="672" height="781" fill="url(#gb2)" opacity=".162"/></g>
<g clip-path="url(#cb)"><circle cx="805.7" cy="804" r="15" fill="url(#dot)"/><circle cx="851" cy="804" r="15" fill="url(#dot)"/><circle cx="896.2" cy="804" r="15" fill="url(#dot)"/><circle cx="941.5" cy="804" r="15" fill="url(#dot)"/><circle cx="986.7" cy="804" r="15" fill="url(#dot)"/><circle cx="1032" cy="804" r="15" fill="url(#dot)"/><circle cx="1077.2" cy="804" r="15" fill="url(#dot)"/><circle cx="1122.5" cy="804" r="15" fill="url(#dot)"/><circle cx="1167.7" cy="804" r="15" fill="url(#dot)"/><circle cx="1213" cy="804" r="15" fill="url(#dot)"/><circle cx="1258.2" cy="804" r="15" fill="url(#dot)"/><circle cx="1303.5" cy="804" r="15" fill="url(#dot)"/><circle cx="1348.7" cy="804" r="15" fill="url(#dot)"/><circle cx="1394" cy="804" r="15" fill="url(#dot)"/><circle cx="1439.2" cy="804" r="15" fill="url(#dot)"/></g>
<g filter="url(#jc)"><rect x="1490" y="23" width="675" height="777" fill="url(#gc0)"/><rect x="1490" y="23" width="675" height="777" fill="url(#gc1)" opacity=".186"/><rect x="1490" y="23" width="675" height="777" fill="url(#gc2)" opacity=".161"/></g>
<g clip-path="url(#cc)"><circle cx="1511.7" cy="798" r="15" fill="url(#dot)"/><circle cx="1557" cy="798" r="15" fill="url(#dot)"/><circle cx="1602.2" cy="798" r="15" fill="url(#dot)"/><circle cx="1647.5" cy="798" r="15" fill="url(#dot)"/><circle cx="1692.7" cy="798" r="15" fill="url(#dot)"/><circle cx="1738" cy="798" r="15" fill="url(#dot)"/><circle cx="1783.2" cy="798" r="15" fill="url(#dot)"/><circle cx="1828.5" cy="798" r="15" fill="url(#dot)"/><circle cx="1873.7" cy="798" r="15" fill="url(#dot)"/><circle cx="1919" cy="798" r="15" fill="url(#dot)"/><circle cx="1964.2" cy="798" r="15" fill="url(#dot)"/><circle cx="2009.5" cy="798" r="15" fill="url(#dot)"/><circle cx="2054.7" cy="798" r="15" fill="url(#dot)"/><circle cx="2099.9" cy="798" r="15" fill="url(#dot)"/><circle cx="2145.2" cy="798" r="15" fill="url(#dot)"/></g>
<g filter="url(#jd)"><rect x="60" y="874" width="675" height="773" fill="url(#gd0)"/><rect x="60" y="874" width="675" height="773" fill="url(#gd1)" opacity=".254"/><rect x="60" y="874" width="675" height="773" fill="url(#gd2)" opacity=".091"/></g>
<g clip-path="url(#cd)"><circle cx="81.7" cy="1646" r="15" fill="url(#dot)"/><circle cx="127" cy="1646" r="15" fill="url(#dot)"/><circle cx="172.2" cy="1646" r="15" fill="url(#dot)"/><circle cx="217.4" cy="1646" r="15" fill="url(#dot)"/><circle cx="262.7" cy="1646" r="15" fill="url(#dot)"/><circle cx="307.9" cy="1646" r="15" fill="url(#dot)"/><circle cx="353.2" cy="1646" r="15" fill="url(#dot)"/><circle cx="398.4" cy="1646" r="15" fill="url(#dot)"/><circle cx="443.7" cy="1646" r="15" fill="url(#dot)"/><circle cx="488.9" cy="1646" r="15" fill="url(#dot)"/><circle cx="534.2" cy="1646" r="15" fill="url(#dot)"/><circle cx="579.5" cy="1646" r="15" fill="url(#dot)"/><circle cx="624.7" cy="1646" r="15" fill="url(#dot)"/><circle cx="670" cy="1646" r="15" fill="url(#dot)"/><circle cx="715.2" cy="1646" r="15" fill="url(#dot)"/></g>
<g filter="url(#je)"><rect x="788" y="867" width="674" height="779" fill="url(#ge0)"/><rect x="788" y="867" width="674" height="779" fill="url(#ge1)" opacity=".095"/><rect x="788" y="867" width="674" height="779" fill="url(#ge2)" opacity=".096"/></g>
<g clip-path="url(#ce)"><circle cx="809.7" cy="1645" r="15" fill="url(#dot)"/><circle cx="855" cy="1645" r="15" fill="url(#dot)"/><circle cx="900.2" cy="1645" r="15" fill="url(#dot)"/><circle cx="945.5" cy="1645" r="15" fill="url(#dot)"/><circle cx="990.7" cy="1645" r="15" fill="url(#dot)"/><circle cx="1036" cy="1645" r="15" fill="url(#dot)"/><circle cx="1081.2" cy="1645" r="15" fill="url(#dot)"/><circle cx="1126.5" cy="1645" r="15" fill="url(#dot)"/><circle cx="1171.7" cy="1645" r="15" fill="url(#dot)"/><circle cx="1217" cy="1645" r="15" fill="url(#dot)"/><circle cx="1262.2" cy="1645" r="15" fill="url(#dot)"/><circle cx="1307.5" cy="1645" r="15" fill="url(#dot)"/><circle cx="1352.7" cy="1645" r="15" fill="url(#dot)"/><circle cx="1398" cy="1645" r="15" fill="url(#dot)"/><circle cx="1443.2" cy="1645" r="15" fill="url(#dot)"/></g>
<g filter="url(#jf)"><rect x="1499" y="864" width="672" height="779" fill="url(#gf0)"/><rect x="1499" y="864" width="672" height="779" fill="url(#gf1)" opacity=".095"/><rect x="1499" y="864" width="672" height="779" fill="url(#gf2)" opacity=".096"/></g>
<g clip-path="url(#cf)"><circle cx="1520.7" cy="1643" r="15" fill="url(#dot)"/><circle cx="1566" cy="1643" r="15" fill="url(#dot)"/><circle cx="1611.2" cy="1643" r="15" fill="url(#dot)"/><circle cx="1656.5" cy="1643" r="15" fill="url(#dot)"/><circle cx="1701.7" cy="1643" r="15" fill="url(#dot)"/><circle cx="1747" cy="1643" r="15" fill="url(#dot)"/><circle cx="1792.2" cy="1643" r="15" fill="url(#dot)"/><circle cx="1837.5" cy="1643" r="15" fill="url(#dot)"/><circle cx="1882.7" cy="1643" r="15" fill="url(#dot)"/><circle cx="1928" cy="1643" r="15" fill="url(#dot)"/><circle cx="1973.2" cy="1643" r="15" fill="url(#dot)"/><circle cx="2018.5" cy="1643" r="15" fill="url(#dot)"/><circle cx="2063.7" cy="1643" r="15" fill="url(#dot)"/><circle cx="2108.9" cy="1643" r="15" fill="url(#dot)"/><circle cx="2154.2" cy="1643" r="15" fill="url(#dot)"/></g>
<rect x="61.5" y="22.7" width="674.5" height="4" fill="#3a3a3a"/>
<rect x="781.6" y="23" width="2.8" height="781" fill="#3a3a3a"/>
<rect x="1488.8" y="23" width="2.6" height="778" fill="#3a3a3a"/>
<rect x="1488.8" y="798.8" width="677" height="2.5" fill="#3a3a3a"/>
<rect x="2163.2" y="23" width="2.6" height="778" fill="#3a3a3a"/>
<rect x="60" y="1645.8" width="676" height="2.4" fill="#3a3a3a"/>
<rect x="733.4" y="874" width="2.6" height="774" fill="#3a3a3a"/>
<rect x="59.5" y="874" width="2.2" height="774" fill="#3a3a3a"/>
<rect x="788" y="1644.5" width="674" height="2.2" fill="#3a3a3a"/>
<rect x="1499" y="1641.8" width="673" height="2.4" fill="#3a3a3a"/>
<rect x="2169.5" y="864" width="2.2" height="780" fill="#3a3a3a"/>
<rect x="161.3" y="26.7" width="559" height="117.7" fill="#fff" fill-opacity=".66"/><rect x="328.4" y="167" width="217.4" height="119.6" fill="#fff" fill-opacity=".66"/><path d="M409.5 278H428.5V740H454.5L419 802L394.4 740H409.5Z" fill="#fff"/><text x="170.4" y="122.7" font-size="93" font-style="italic" textLength="54.8" lengthAdjust="spacingAndGlyphs">σ</text><text x="252.3" y="122.7" font-size="93" textLength="59.8" lengthAdjust="spacingAndGlyphs">=</text><text x="324.7" y="122.7" font-size="93" textLength="36.6" lengthAdjust="spacingAndGlyphs">1</text><text x="369" y="135" font-size="102.1" textLength="50.5" lengthAdjust="spacingAndGlyphs">×</text><text x="423.1" y="122.7" font-size="93" textLength="91.9" lengthAdjust="spacingAndGlyphs">10</text><text x="549.8" y="122.7" font-size="93" textLength="142" lengthAdjust="spacingAndGlyphs">S/m</text><text x="518.1" y="89.5" font-size="63.6" textLength="29.5" lengthAdjust="spacingAndGlyphs">0</text><text x="340.9" y="260.7" font-size="100" textLength="194.2" lengthAdjust="spacingAndGlyphs">RCP</text><text x="57" y="761" font-size="124">(a)</text>
<rect x="848" y="23" width="562" height="114" fill="#fff" fill-opacity=".66"/><rect x="1072" y="166" width="217" height="119" fill="#fff" fill-opacity=".66"/><rect x="1288" y="306.6" width="172" height="119" fill="#fff" fill-opacity=".66"/><rect x="1460" y="306.6" width="31" height="119" fill="#c4c4c4"/><rect x="1166" y="477" width="283" height="131" fill="#fff" fill-opacity=".66"/><path d="M1127.4 809.5L1334 519.3L1347.5 528.8L1384.3 432.3L1305.1 498.7L1318.6 508.3L1112 798.5Z" fill="#fff"/><path d="M1119.7 609A195 195 0 0 1 1231.5 644.3" fill="none" stroke="#fff" stroke-width="19"/><path d="M1110.2 278H1129.2V736.5H1150.3L1119.7 804.5L1093.5 736.5H1110.2Z" fill="#fff"/><text x="859.7" y="113.6" font-size="89" font-style="italic" textLength="42.3" lengthAdjust="spacingAndGlyphs">σ</text><text x="939" y="113.6" font-size="89" textLength="50.2" lengthAdjust="spacingAndGlyphs">=</text><text x="1006.4" y="113.6" font-size="89" textLength="49.4" lengthAdjust="spacingAndGlyphs">5</text><text x="1057.6" y="125.4" font-size="97.7" textLength="50.8" lengthAdjust="spacingAndGlyphs">×</text><text x="1114.3" y="113.6" font-size="89" textLength="97" lengthAdjust="spacingAndGlyphs">10</text><text x="1242.1" y="113.6" font-size="89" textLength="141.4" lengthAdjust="spacingAndGlyphs">S/m</text><text x="1212.1" y="82" font-size="60.6" textLength="29.1" lengthAdjust="spacingAndGlyphs">3</text><text x="1083.9" y="260" font-size="100" textLength="193.7" lengthAdjust="spacingAndGlyphs">RCP</text><text x="1295.9" y="398" font-size="100" textLength="187.5" lengthAdjust="spacingAndGlyphs">LCP</text><text x="1172.9" y="567" font-size="84" font-style="italic" textLength="41.9" lengthAdjust="spacingAndGlyphs">θ</text><text x="1213.5" y="589" font-size="34" font-style="italic" textLength="19.9" lengthAdjust="spacingAndGlyphs">r</text><text x="1260.1" y="573" font-size="92" textLength="50.7" lengthAdjust="spacingAndGlyphs">=</text><text x="1320.2" y="569" font-size="92" textLength="87.6" lengthAdjust="spacingAndGlyphs">35</text><text x="1401.9" y="575" font-size="92" textLength="38.1" lengthAdjust="spacingAndGlyphs">°</text><text x="786.5" y="765" font-size="124">(b)</text>
<rect x="1540" y="23" width="570" height="113" fill="#fff" fill-opacity=".66"/><rect x="1780.8" y="146" width="220.1" height="121" fill="#fff" fill-opacity=".66"/><rect x="2000" y="284" width="165" height="122" fill="#fff" fill-opacity=".66"/><rect x="2166" y="284" width="39" height="122" fill="#c4c4c4"/><rect x="1876.4" y="487" width="283.2" height="130" fill="#fff" fill-opacity=".66"/><path d="M1837.3 802.4L2047.1 501.5L2060.6 510.9L2096.5 414L2018 481.2L2031.5 490.6L1821.7 791.6Z" fill="#fff"/><path d="M1829.5 602A195 195 0 0 1 1941.3 637.3" fill="none" stroke="#fff" stroke-width="19"/><path d="M1820 257H1839V720H1855L1829.5 797L1806 720H1820Z" fill="#fff"/><text x="1553.5" y="115" font-size="85" font-style="italic" textLength="52.2" lengthAdjust="spacingAndGlyphs">σ</text><text x="1638.8" y="115" font-size="85" textLength="50.3" lengthAdjust="spacingAndGlyphs">=</text><text x="1707.4" y="115" font-size="85" textLength="34" lengthAdjust="spacingAndGlyphs">1</text><text x="1752.6" y="126.3" font-size="93.3" textLength="48.3" lengthAdjust="spacingAndGlyphs">×</text><text x="1813.6" y="115" font-size="85" textLength="71.4" lengthAdjust="spacingAndGlyphs">10</text><text x="1941" y="115" font-size="85" textLength="135.9" lengthAdjust="spacingAndGlyphs">S/m</text><text x="1906.9" y="82" font-size="40.9" textLength="21.5" lengthAdjust="spacingAndGlyphs">4</text><text x="1794.9" y="240" font-size="100" textLength="192.8" lengthAdjust="spacingAndGlyphs">RCP</text><text x="2010" y="374.5" font-size="100" textLength="185.5" lengthAdjust="spacingAndGlyphs">LCP</text><text x="1883.7" y="576" font-size="84" font-style="italic" textLength="44" lengthAdjust="spacingAndGlyphs">θ</text><text x="1926.3" y="598" font-size="34" font-style="italic" textLength="20.9" lengthAdjust="spacingAndGlyphs">r</text><text x="1975.3" y="582" font-size="92" textLength="53.2" lengthAdjust="spacingAndGlyphs">=</text><text x="2038.4" y="578" font-size="92" textLength="92" lengthAdjust="spacingAndGlyphs">35</text><text x="2124.2" y="584" font-size="92" textLength="40" lengthAdjust="spacingAndGlyphs">°</text><text x="1494.5" y="761" font-size="124">(c)</text>
<rect x="179.7" y="874" width="555.3" height="102" fill="#fff" fill-opacity=".66"/><rect x="386" y="994" width="219.5" height="120" fill="#fff" fill-opacity=".66"/><rect x="604" y="1132" width="131" height="120" fill="#fff" fill-opacity=".66"/><rect x="736" y="1132" width="57" height="120" fill="#f4f4f6"/><rect x="445" y="1284" width="279" height="131.6" fill="#fff" fill-opacity=".66"/><path d="M441.3 1648.4L649.5 1350.4L663 1359.9L699 1263L620.4 1330.1L633.9 1339.5L425.7 1637.6Z" fill="#fff"/><path d="M433.5 1445A198 198 0 0 1 547.1 1480.8" fill="none" stroke="#fff" stroke-width="19"/><path d="M424 1103H443V1568H462L433.5 1643L409 1568H424Z" fill="#fff"/><text x="193.2" y="957.4" font-size="82" font-style="italic" textLength="46.6" lengthAdjust="spacingAndGlyphs">σ</text><text x="271.4" y="957.4" font-size="82" textLength="49.8" lengthAdjust="spacingAndGlyphs">=</text><text x="342.5" y="957.4" font-size="82" textLength="41.1" lengthAdjust="spacingAndGlyphs">2</text><text x="398.6" y="968.3" font-size="90" textLength="45.3" lengthAdjust="spacingAndGlyphs">×</text><text x="450.3" y="957.4" font-size="82" textLength="75.3" lengthAdjust="spacingAndGlyphs">10</text><text x="576" y="957.4" font-size="82" textLength="132.2" lengthAdjust="spacingAndGlyphs">S/m</text><text x="546" y="922" font-size="30.3" textLength="14.8" lengthAdjust="spacingAndGlyphs">4</text><text x="399.9" y="1089.4" font-size="100" textLength="194.2" lengthAdjust="spacingAndGlyphs">RCP</text><text x="609.9" y="1224.7" font-size="100" textLength="186.5" lengthAdjust="spacingAndGlyphs">LCP</text><text x="446.9" y="1389" font-size="84" font-style="italic" textLength="42.7" lengthAdjust="spacingAndGlyphs">θ</text><text x="488.2" y="1411" font-size="34" font-style="italic" textLength="20.2" lengthAdjust="spacingAndGlyphs">r</text><text x="535.7" y="1395" font-size="92" textLength="51.7" lengthAdjust="spacingAndGlyphs">=</text><text x="597" y="1391" font-size="92" textLength="89.3" lengthAdjust="spacingAndGlyphs">35</text><text x="680.2" y="1397" font-size="92" textLength="38.8" lengthAdjust="spacingAndGlyphs">°</text><text x="57" y="1622" font-size="124">(d)</text>
<rect x="913" y="877.7" width="533" height="108.7" fill="#fff" fill-opacity=".66"/><rect x="1065.7" y="987.6" width="216.3" height="118.4" fill="#fff" fill-opacity=".66"/><rect x="1284" y="1129" width="178" height="117" fill="#fff" fill-opacity=".66"/><rect x="1463" y="1129" width="37" height="117" fill="#f4f4f6"/><rect x="1163" y="1292" width="284" height="130.5" fill="#fff" fill-opacity=".66"/><path d="M1120.8 1641.4L1329.8 1340.6L1343.3 1350L1379 1253L1300.6 1320.3L1314.2 1329.7L1105.2 1630.6Z" fill="#fff"/><path d="M1113 1438A198 198 0 0 1 1226.6 1473.8" fill="none" stroke="#fff" stroke-width="19"/><path d="M1103.5 1097H1122.5V1562H1138.5L1113 1636L1088.7 1562H1103.5Z" fill="#fff"/><text x="926.1" y="965" font-size="83" font-style="italic" textLength="46.3" lengthAdjust="spacingAndGlyphs">σ</text><text x="993.2" y="965" font-size="83" textLength="47.7" lengthAdjust="spacingAndGlyphs">=</text><text x="1053.7" y="965" font-size="83" textLength="95.8" lengthAdjust="spacingAndGlyphs">4.5</text><text x="1154.3" y="976" font-size="91.1" textLength="49.3" lengthAdjust="spacingAndGlyphs">×</text><text x="1202.8" y="965" font-size="83" textLength="69.7" lengthAdjust="spacingAndGlyphs">10</text><text x="1311" y="965" font-size="83" textLength="133.8" lengthAdjust="spacingAndGlyphs">S/m</text><text x="1286.2" y="928" font-size="43.9" textLength="16.5" lengthAdjust="spacingAndGlyphs">4</text><text x="1077.9" y="1081.5" font-size="100" textLength="193.2" lengthAdjust="spacingAndGlyphs">RCP</text><text x="1290.7" y="1220" font-size="100" textLength="178.6" lengthAdjust="spacingAndGlyphs">LCP</text><text x="1168.8" y="1382" font-size="84" font-style="italic" textLength="42.8" lengthAdjust="spacingAndGlyphs">θ</text><text x="1210.3" y="1404" font-size="34" font-style="italic" textLength="20.3" lengthAdjust="spacingAndGlyphs">r</text><text x="1258" y="1388" font-size="92" textLength="51.9" lengthAdjust="spacingAndGlyphs">=</text><text x="1319.5" y="1384" font-size="92" textLength="89.7" lengthAdjust="spacingAndGlyphs">35</text><text x="1403.1" y="1390" font-size="92" textLength="39" lengthAdjust="spacingAndGlyphs">°</text><text x="785" y="1620" font-size="124">(e)</text>
<rect x="1550" y="864" width="585" height="116.7" fill="#fff" fill-opacity=".66"/><rect x="1775" y="984" width="217.5" height="120" fill="#fff" fill-opacity=".66"/><rect x="1992.5" y="1124" width="177.5" height="120" fill="#fff" fill-opacity=".66"/><rect x="2172" y="1124" width="31" height="120" fill="#f4f4f6"/><rect x="1882" y="1291" width="284" height="131" fill="#fff" fill-opacity=".66"/><path d="M1832.3 1643.4L2039.4 1340.6L2053 1349.9L2088 1252.7L2010.1 1320.6L2023.7 1329.9L1816.7 1632.6Z" fill="#fff"/><path d="M1824.5 1442A196 196 0 0 1 1936.9 1477.4" fill="none" stroke="#fff" stroke-width="19"/><path d="M1815 1093H1834V1558H1853L1824.5 1638L1800 1558H1815Z" fill="#fff"/><text x="1564.4" y="959.3" font-size="90" font-style="italic" textLength="53.2" lengthAdjust="spacingAndGlyphs">σ</text><text x="1639.5" y="959.3" font-size="90" textLength="53.5" lengthAdjust="spacingAndGlyphs">=</text><text x="1702.1" y="959.3" font-size="90" textLength="103.2" lengthAdjust="spacingAndGlyphs">1.5</text><text x="1810.5" y="971.2" font-size="98.8" textLength="52.5" lengthAdjust="spacingAndGlyphs">×</text><text x="1864.5" y="959.3" font-size="90" textLength="84.3" lengthAdjust="spacingAndGlyphs">10</text><text x="1981.1" y="959.3" font-size="90" textLength="143.6" lengthAdjust="spacingAndGlyphs">S/m</text><text x="1946.9" y="920" font-size="50" textLength="20.7" lengthAdjust="spacingAndGlyphs">5</text><text x="1787.4" y="1079" font-size="100" textLength="193.7" lengthAdjust="spacingAndGlyphs">RCP</text><text x="1999.9" y="1216.5" font-size="100" textLength="190.6" lengthAdjust="spacingAndGlyphs">LCP</text><text x="1887.3" y="1382" font-size="84" font-style="italic" textLength="43.6" lengthAdjust="spacingAndGlyphs">θ</text><text x="1929.5" y="1404" font-size="34" font-style="italic" textLength="20.7" lengthAdjust="spacingAndGlyphs">r</text><text x="1978" y="1388" font-size="92" textLength="52.7" lengthAdjust="spacingAndGlyphs">=</text><text x="2040.5" y="1384" font-size="92" textLength="91.2" lengthAdjust="spacingAndGlyphs">35</text><text x="2125.5" y="1390" font-size="92" textLength="39.7" lengthAdjust="spacingAndGlyphs">°</text><text x="1498" y="1621" font-size="124">(f)</text>
<rect x="2236" y="110.5" width="110" height="23.6" fill="#870000"/><rect x="2236" y="133.5" width="110" height="23.6" fill="#970000"/><rect x="2236" y="156.5" width="110" height="23.6" fill="#a70000"/><rect x="2236" y="179.5" width="110" height="23.6" fill="#b70000"/><rect x="2236" y="202.4" width="110" height="23.6" fill="#c70000"/><rect x="2236" y="225.4" width="110" height="23.6" fill="#d70000"/><rect x="2236" y="248.4" width="110" height="23.6" fill="#e70000"/><rect x="2236" y="271.4" width="110" height="23.6" fill="#f70000"/><rect x="2236" y="294.4" width="110" height="23.6" fill="#ff0800"/><rect x="2236" y="317.4" width="110" height="23.6" fill="#ff1800"/><rect x="2236" y="340.3" width="110" height="23.6" fill="#ff2800"/><rect x="2236" y="363.3" width="110" height="23.6" fill="#ff3800"/><rect x="2236" y="386.3" width="110" height="23.6" fill="#ff4800"/><rect x="2236" y="409.3" width="110" height="23.6" fill="#ff5800"/><rect x="2236" y="432.3" width="110" height="23.6" fill="#ff6800"/><rect x="2236" y="455.3" width="110" height="23.6" fill="#ff7800"/><rect x="2236" y="478.2" width="110" height="23.6" fill="#ff8700"/><rect x="2236" y="501.2" width="110" height="23.6" fill="#ff9700"/><rect x="2236" y="524.2" width="110" height="23.6" fill="#ffa700"/><rect x="2236" y="547.2" width="110" height="23.6" fill="#ffb700"/><rect x="2236" y="570.2" width="110" height="23.6" fill="#ffc700"/><rect x="2236" y="593.2" width="110" height="23.6" fill="#ffd700"/><rect x="2236" y="616.2" width="110" height="23.6" fill="#ffe700"/><rect x="2236" y="639.1" width="110" height="23.6" fill="#fff700"/><rect x="2236" y="662.1" width="110" height="23.6" fill="#f7ff08"/><rect x="2236" y="685.1" width="110" height="23.6" fill="#e7ff18"/><rect x="2236" y="708.1" width="110" height="23.6" fill="#d7ff28"/><rect x="2236" y="731.1" width="110" height="23.6" fill="#c7ff38"/><rect x="2236" y="754.1" width="110" height="23.6" fill="#b7ff48"/><rect x="2236" y="777" width="110" height="23.6" fill="#a7ff58"/><rect x="2236" y="800" width="110" height="23.6" fill="#97ff68"/><rect x="2236" y="823" width="110" height="23.6" fill="#87ff78"/><rect x="2236" y="846" width="110" height="23.6" fill="#78ff87"/><rect x="2236" y="869" width="110" height="23.6" fill="#68ff97"/><rect x="2236" y="892" width="110" height="23.6" fill="#58ffa7"/><rect x="2236" y="915" width="110" height="23.6" fill="#48ffb7"/><rect x="2236" y="937.9" width="110" height="23.6" fill="#38ffc7"/><rect x="2236" y="960.9" width="110" height="23.6" fill="#28ffd7"/><rect x="2236" y="983.9" width="110" height="23.6" fill="#18ffe7"/><rect x="2236" y="1006.9" width="110" height="23.6" fill="#08fff7"/><rect x="2236" y="1029.9" width="110" height="23.6" fill="#00f7ff"/><rect x="2236" y="1052.9" width="110" height="23.6" fill="#00e7ff"/><rect x="2236" y="1075.8" width="110" height="23.6" fill="#00d7ff"/><rect x="2236" y="1098.8" width="110" height="23.6" fill="#00c7ff"/><rect x="2236" y="1121.8" width="110" height="23.6" fill="#00b7ff"/><rect x="2236" y="1144.8" width="110" height="23.6" fill="#00a7ff"/><rect x="2236" y="1167.8" width="110" height="23.6" fill="#0097ff"/><rect x="2236" y="1190.8" width="110" height="23.6" fill="#0087ff"/><rect x="2236" y="1213.8" width="110" height="23.6" fill="#0078ff"/><rect x="2236" y="1236.7" width="110" height="23.6" fill="#0068ff"/><rect x="2236" y="1259.7" width="110" height="23.6" fill="#0058ff"/><rect x="2236" y="1282.7" width="110" height="23.6" fill="#0048ff"/><rect x="2236" y="1305.7" width="110" height="23.6" fill="#0038ff"/><rect x="2236" y="1328.7" width="110" height="23.6" fill="#0028ff"/><rect x="2236" y="1351.7" width="110" height="23.6" fill="#0018ff"/><rect x="2236" y="1374.6" width="110" height="23.6" fill="#0008ff"/><rect x="2236" y="1397.6" width="110" height="23.6" fill="#0000f7"/><rect x="2236" y="1420.6" width="110" height="23.6" fill="#0000e7"/><rect x="2236" y="1443.6" width="110" height="23.6" fill="#0000d7"/><rect x="2236" y="1466.6" width="110" height="23.6" fill="#0000c7"/><rect x="2236" y="1489.6" width="110" height="23.6" fill="#0000b7"/><rect x="2236" y="1512.5" width="110" height="23.6" fill="#0000a7"/><rect x="2236" y="1535.5" width="110" height="23.6" fill="#000097"/><rect x="2236" y="1558.5" width="110" height="23.6" fill="#000087"/><rect x="2234.5" y="109" width="113" height="1474" fill="none" stroke="#222" stroke-width="3"/><rect x="2336" y="475" width="10" height="3" fill="#333"/><rect x="2336" y="844" width="10" height="3" fill="#333"/><rect x="2336" y="1213" width="10" height="3" fill="#333"/><text x="2213.8" y="99" font-size="97" font-weight="bold" textLength="186.7" lengthAdjust="spacingAndGlyphs">Max</text><text x="2208.6" y="1654.4" font-size="95" font-weight="bold" textLength="166.9" lengthAdjust="spacingAndGlyphs">Min</text>
<g fill="none" stroke="#000" stroke-width="4"><rect x="239" y="1781" width="2102" height="721"/><path d="M501.7 2502v-32M501.7 1781v32M895.9 2502v-32M895.9 1781v32M1290 2502v-32M1290 1781v32M1684.1 2502v-32M1684.1 1781v32M2078.2 2502v-32M2078.2 1781v32M304.7 2502v-16M304.7 1781v16M698.8 2502v-16M698.8 1781v16M1092.9 2502v-16M1092.9 1781v16M1487 2502v-16M1487 1781v16M1881.2 2502v-16M1881.2 1781v16M2275.3 2502v-16M2275.3 1781v16M239 2357.8h24M2341 2357.8h-24M239 2213.6h24M2341 2213.6h-24M239 2069.4h24M2341 2069.4h-24M239 1925.2h24M2341 1925.2h-24M239 2429.9h13M2341 2429.9h-13M239 2285.7h13M2341 2285.7h-13M239 2141.5h13M2341 2141.5h-13M239 1997.3h13M2341 1997.3h-13M239 1853.1h13M2341 1853.1h-13"/></g>
<path d="M1016 1856V2502" stroke="#000" stroke-width="13" stroke-dasharray="22 67.7"/>
<clipPath id="plotclip"><rect x="239" y="1700" width="2102" height="802"/></clipPath>
<g fill="#555555" clip-path="url(#plotclip)"><path d="M239 1848.1 265.2 1957.6 291.5 2073.7 317.8 2186.2 344.1 2295.1 370.4 2396 396.6 2480.4 422.9 2451.5 449.2 2408.3 475.4 2386.6 501.7 2372.2 528 2361.4 554.3 2360 580.5 2368.6 606.8 2383 633.1 2411.9 659.4 2444.3 685.6 2480.4 711.9 2500.3 738.2 2473.2 764.5 2460.2 790.8 2446.7 817 2429.9 843.3 2418 869.6 2413.7 895.9 2413 922.1 2421.6 948.4 2435.7 974.7 2453.7 1000.9 2470.2 1027.2 2480.4 1053.5 2480.4 1079.8 2480.4 1106 2475 1132.3 2465.9 1158.6 2457 1184.9 2449.2 1211.1 2448.5 1237.4 2451.5 1263.7 2457 1290 2464.5 1316.2 2471.5 1342.5 2478.5 1368.8 2485.4 1395.1 2493.8 1421.3 2498.4 1447.6 2498.4 1473.9 2498.4 1500.2 2497.5 1526.4 2495.5 1552.7 2493.3 1579 2491.1 1605.3 2488.7 1631.5 2487.6 1657.8 2487.8 1684.1 2488.3 1710.4 2489 1736.6 2490.5 1762.9 2492.7 1789.2 2494.8 1815.5 2496.7 1841.7 2498.5 1868 2499.8 1894.3 2500.8 1920.6 2501.7 1946.8 2502 1973.1 2502 1999.4 2502 2025.7 2502 2051.9 2501.9 2078.2 2501.9 2104.5 2501.8 2130.8 2501.6 2157 2501.5 2183.3 2501.2 2209.6 2500.9 2235.9 2500.6 2262.1 2500.2 2288.4 2499.7 2314.7 2499.1 2341 2498.4" fill="none" stroke="#555555" stroke-width="9" stroke-linejoin="round"/><rect x="223.5" y="1832.6" width="31" height="31"/><rect x="249.8" y="1942.1" width="31" height="31"/><rect x="276" y="2058.2" width="31" height="31"/><rect x="302.3" y="2170.7" width="31" height="31"/><rect x="328.6" y="2279.6" width="31" height="31"/><rect x="354.9" y="2380.5" width="31" height="31"/><rect x="381.1" y="2464.9" width="31" height="31"/><rect x="407.4" y="2436" width="31" height="31"/><rect x="433.7" y="2392.8" width="31" height="31"/><rect x="459.9" y="2371.1" width="31" height="31"/><rect x="486.2" y="2356.7" width="31" height="31"/><rect x="512.5" y="2345.9" width="31" height="31"/><rect x="538.8" y="2344.5" width="31" height="31"/><rect x="565" y="2353.1" width="31" height="31"/><rect x="591.3" y="2367.5" width="31" height="31"/><rect x="617.6" y="2396.4" width="31" height="31"/><rect x="643.9" y="2428.8" width="31" height="31"/><rect x="670.1" y="2464.9" width="31" height="31"/><rect x="696.4" y="2484.8" width="31" height="31"/><rect x="722.7" y="2457.7" width="31" height="31"/><rect x="749" y="2444.7" width="31" height="31"/><rect x="775.2" y="2431.2" width="31" height="31"/><rect x="801.5" y="2414.4" width="31" height="31"/><rect x="827.8" y="2402.5" width="31" height="31"/><rect x="854.1" y="2398.2" width="31" height="31"/><rect x="880.4" y="2397.5" width="31" height="31"/><rect x="906.6" y="2406.1" width="31" height="31"/><rect x="932.9" y="2420.2" width="31" height="31"/><rect x="959.2" y="2438.2" width="31" height="31"/><rect x="985.4" y="2454.7" width="31" height="31"/><rect x="1011.7" y="2464.9" width="31" height="31"/><rect x="1038" y="2464.9" width="31" height="31"/><rect x="1064.3" y="2464.9" width="31" height="31"/><rect x="1090.5" y="2459.5" width="31" height="31"/><rect x="1116.8" y="2450.4" width="31" height="31"/><rect x="1143.1" y="2441.5" width="31" height="31"/><rect x="1169.4" y="2433.7" width="31" height="31"/><rect x="1195.6" y="2433" width="31" height="31"/><rect x="1221.9" y="2436" width="31" height="31"/><rect x="1248.2" y="2441.5" width="31" height="31"/><rect x="1274.5" y="2449" width="31" height="31"/><rect x="1300.7" y="2456" width="31" height="31"/><rect x="1327" y="2463" width="31" height="31"/><rect x="1353.3" y="2469.9" width="31" height="31"/><rect x="1379.6" y="2478.3" width="31" height="31"/><rect x="1405.8" y="2482.9" width="31" height="31"/><rect x="1432.1" y="2482.9" width="31" height="31"/><rect x="1458.4" y="2482.9" width="31" height="31"/><rect x="1484.7" y="2482" width="31" height="31"/><rect x="1510.9" y="2480" width="31" height="31"/><rect x="1537.2" y="2477.8" width="31" height="31"/><rect x="1563.5" y="2475.6" width="31" height="31"/><rect x="1589.8" y="2473.2" width="31" height="31"/><rect x="1616" y="2472.1" width="31" height="31"/><rect x="1642.3" y="2472.3" width="31" height="31"/><rect x="1668.6" y="2472.8" width="31" height="31"/><rect x="1694.9" y="2473.5" width="31" height="31"/><rect x="1721.1" y="2475" width="31" height="31"/><rect x="1747.4" y="2477.2" width="31" height="31"/><rect x="1773.7" y="2479.3" width="31" height="31"/><rect x="1800" y="2481.2" width="31" height="31"/><rect x="1826.2" y="2483" width="31" height="31"/><rect x="1852.5" y="2484.3" width="31" height="31"/><rect x="1878.8" y="2485.3" width="31" height="31"/><rect x="1905.1" y="2486.2" width="31" height="31"/><rect x="1931.3" y="2486.5" width="31" height="31"/><rect x="1957.6" y="2486.5" width="31" height="31"/><rect x="1983.9" y="2486.5" width="31" height="31"/><rect x="2010.2" y="2486.5" width="31" height="31"/><rect x="2036.4" y="2486.4" width="31" height="31"/><rect x="2062.7" y="2486.4" width="31" height="31"/><rect x="2089" y="2486.3" width="31" height="31"/><rect x="2115.3" y="2486.1" width="31" height="31"/><rect x="2141.5" y="2486" width="31" height="31"/><rect x="2167.8" y="2485.7" width="31" height="31"/><rect x="2194.1" y="2485.4" width="31" height="31"/><rect x="2220.4" y="2485.1" width="31" height="31"/><rect x="2246.6" y="2484.7" width="31" height="31"/><rect x="2272.9" y="2484.2" width="31" height="31"/><rect x="2299.2" y="2483.6" width="31" height="31"/><rect x="2325.5" y="2482.9" width="31" height="31"/></g>
<g fill="#ee4040" clip-path="url(#plotclip)"><path d="M239 2026.1 265.2 2098.2 291.5 2163.1 317.8 2235.2 344.1 2314.5 370.4 2408.3 396.6 2487.6 422.9 2451.5 449.2 2415.5 475.4 2386.6 501.7 2365 528 2354.2 554.3 2354.2 580.5 2365 606.8 2379.4 633.1 2408.3 659.4 2444.3 685.6 2480.4 711.9 2500.1 738.2 2465.9 764.5 2440.7 790.8 2411 817 2388.8 843.3 2377.5 869.6 2373.7 895.9 2376.9 922.1 2385.3 948.4 2397.2 974.7 2408.3 1000.9 2420.2 1027.2 2432.8 1053.5 2445.7 1079.8 2448.1 1106 2443.4 1132.3 2437.6 1158.6 2430.8 1184.9 2430.6 1211.1 2434 1237.4 2439.1 1263.7 2446.1 1290 2457.5 1316.2 2469.8 1342.5 2481.5 1368.8 2491.2 1395.1 2496.2 1421.3 2498.4 1447.6 2497.9 1473.9 2496.5 1500.2 2494.8 1526.4 2491.6 1552.7 2487.3 1579 2484 1605.3 2482 1631.5 2480.6 1657.8 2480.4 1684.1 2480.9 1710.4 2481.8 1736.6 2484.1 1762.9 2487.8 1789.2 2491.2 1815.5 2493.9 1841.7 2496.4 1868 2498.4 1894.3 2500 1920.6 2501.4 1946.8 2502 1973.1 2502 1999.4 2502 2025.7 2502 2051.9 2501.9 2078.2 2501.9 2104.5 2501.8 2130.8 2501.6 2157 2501.5 2183.3 2501.2 2209.6 2500.9 2235.9 2500.6 2262.1 2500.2 2288.4 2499.7 2314.7 2499.1 2341 2498.4" fill="none" stroke="#ee4040" stroke-width="9" stroke-linejoin="round"/><circle cx="239" cy="2026.1" r="16"/><circle cx="265.2" cy="2098.2" r="16"/><circle cx="291.5" cy="2163.1" r="16"/><circle cx="317.8" cy="2235.2" r="16"/><circle cx="344.1" cy="2314.5" r="16"/><circle cx="370.4" cy="2408.3" r="16"/><circle cx="396.6" cy="2487.6" r="16"/><circle cx="422.9" cy="2451.5" r="16"/><circle cx="449.2" cy="2415.5" r="16"/><circle cx="475.4" cy="2386.6" r="16"/><circle cx="501.7" cy="2365" r="16"/><circle cx="528" cy="2354.2" r="16"/><circle cx="554.3" cy="2354.2" r="16"/><circle cx="580.5" cy="2365" r="16"/><circle cx="606.8" cy="2379.4" r="16"/><circle cx="633.1" cy="2408.3" r="16"/><circle cx="659.4" cy="2444.3" r="16"/><circle cx="685.6" cy="2480.4" r="16"/><circle cx="711.9" cy="2500.1" r="16"/><circle cx="738.2" cy="2465.9" r="16"/><circle cx="764.5" cy="2440.7" r="16"/><circle cx="790.8" cy="2411" r="16"/><circle cx="817" cy="2388.8" r="16"/><circle cx="843.3" cy="2377.5" r="16"/><circle cx="869.6" cy="2373.7" r="16"/><circle cx="895.9" cy="2376.9" r="16"/><circle cx="922.1" cy="2385.3" r="16"/><circle cx="948.4" cy="2397.2" r="16"/><circle cx="974.7" cy="2408.3" r="16"/><circle cx="1000.9" cy="2420.2" r="16"/><circle cx="1027.2" cy="2432.8" r="16"/><circle cx="1053.5" cy="2445.7" r="16"/><circle cx="1079.8" cy="2448.1" r="16"/><circle cx="1106" cy="2443.4" r="16"/><circle cx="1132.3" cy="2437.6" r="16"/><circle cx="1158.6" cy="2430.8" r="16"/><circle cx="1184.9" cy="2430.6" r="16"/><circle cx="1211.1" cy="2434" r="16"/><circle cx="1237.4" cy="2439.1" r="16"/><circle cx="1263.7" cy="2446.1" r="16"/><circle cx="1290" cy="2457.5" r="16"/><circle cx="1316.2" cy="2469.8" r="16"/><circle cx="1342.5" cy="2481.5" r="16"/><circle cx="1368.8" cy="2491.2" r="16"/><circle cx="1395.1" cy="2496.2" r="16"/><circle cx="1421.3" cy="2498.4" r="16"/><circle cx="1447.6" cy="2497.9" r="16"/><circle cx="1473.9" cy="2496.5" r="16"/><circle cx="1500.2" cy="2494.8" r="16"/><circle cx="1526.4" cy="2491.6" r="16"/><circle cx="1552.7" cy="2487.3" r="16"/><circle cx="1579" cy="2484" r="16"/><circle cx="1605.3" cy="2482" r="16"/><circle cx="1631.5" cy="2480.6" r="16"/><circle cx="1657.8" cy="2480.4" r="16"/><circle cx="1684.1" cy="2480.9" r="16"/><circle cx="1710.4" cy="2481.8" r="16"/><circle cx="1736.6" cy="2484.1" r="16"/><circle cx="1762.9" cy="2487.8" r="16"/><circle cx="1789.2" cy="2491.2" r="16"/><circle cx="1815.5" cy="2493.9" r="16"/><circle cx="1841.7" cy="2496.4" r="16"/><circle cx="1868" cy="2498.4" r="16"/><circle cx="1894.3" cy="2500" r="16"/><circle cx="1920.6" cy="2501.4" r="16"/><circle cx="1946.8" cy="2502" r="16"/><circle cx="1973.1" cy="2502" r="16"/><circle cx="1999.4" cy="2502" r="16"/><circle cx="2025.7" cy="2502" r="16"/><circle cx="2051.9" cy="2501.9" r="16"/><circle cx="2078.2" cy="2501.9" r="16"/><circle cx="2104.5" cy="2501.8" r="16"/><circle cx="2130.8" cy="2501.6" r="16"/><circle cx="2157" cy="2501.5" r="16"/><circle cx="2183.3" cy="2501.2" r="16"/><circle cx="2209.6" cy="2500.9" r="16"/><circle cx="2235.9" cy="2500.6" r="16"/><circle cx="2262.1" cy="2500.2" r="16"/><circle cx="2288.4" cy="2499.7" r="16"/><circle cx="2314.7" cy="2499.1" r="16"/><circle cx="2341" cy="2498.4" r="16"/></g>
<g fill="#1f70e0" clip-path="url(#plotclip)"><path d="M239 2069.4 265.2 2119.9 291.5 2184.8 317.8 2249.7 344.1 2321.8 370.4 2415.5 396.6 2487.6 422.9 2451.5 449.2 2415.5 475.4 2383 501.7 2357.8 528 2340.7 554.3 2342.1 580.5 2354.8 606.8 2375.2 633.1 2400.1 659.4 2433 685.6 2470.1 711.9 2502 738.2 2444.3 764.5 2409.5 790.8 2380.2 817 2359.2 843.3 2340.4 869.6 2337.6 895.9 2337.6 922.1 2337.6 948.4 2345 974.7 2355 1000.9 2363.4 1027.2 2370.6 1053.5 2376.7 1079.8 2382 1106 2386.6 1132.3 2390.6 1158.6 2394.4 1184.9 2397.5 1211.1 2399.3 1237.4 2401 1263.7 2404.6 1290 2418.5 1316.2 2446.4 1342.5 2468.1 1368.8 2483.2 1395.1 2494.8 1421.3 2498.4 1447.6 2494.4 1473.9 2487.6 1500.2 2481.2 1526.4 2474.7 1552.7 2469.6 1579 2465.6 1605.3 2462.8 1631.5 2462.5 1657.8 2463.3 1684.1 2464.5 1710.4 2466.6 1736.6 2469.8 1762.9 2473.2 1789.2 2476.6 1815.5 2480.3 1841.7 2484 1868 2488 1894.3 2492 1920.6 2494.8 1946.8 2496.5 1973.1 2497.9 1999.4 2498.4 2025.7 2498.4 2051.9 2498.4 2078.2 2498.4 2104.5 2498.2 2130.8 2497.6 2157 2496.8 2183.3 2495.8 2209.6 2494.8 2235.9 2493.7 2262.1 2492.4 2288.4 2491 2314.7 2489.3 2341 2487.6" fill="none" stroke="#1f70e0" stroke-width="9" stroke-linejoin="round"/><path d="M239 2049.4l22 40h-44z"/><path d="M265.2 2099.9l22 40h-44z"/><path d="M291.5 2164.8l22 40h-44z"/><path d="M317.8 2229.7l22 40h-44z"/><path d="M344.1 2301.8l22 40h-44z"/><path d="M370.4 2395.5l22 40h-44z"/><path d="M396.6 2467.6l22 40h-44z"/><path d="M422.9 2431.5l22 40h-44z"/><path d="M449.2 2395.5l22 40h-44z"/><path d="M475.4 2363l22 40h-44z"/><path d="M501.7 2337.8l22 40h-44z"/><path d="M528 2320.7l22 40h-44z"/><path d="M554.3 2322.1l22 40h-44z"/><path d="M580.5 2334.8l22 40h-44z"/><path d="M606.8 2355.2l22 40h-44z"/><path d="M633.1 2380.1l22 40h-44z"/><path d="M659.4 2413l22 40h-44z"/><path d="M685.6 2450.1l22 40h-44z"/><path d="M711.9 2482l22 40h-44z"/><path d="M738.2 2424.3l22 40h-44z"/><path d="M764.5 2389.5l22 40h-44z"/><path d="M790.8 2360.2l22 40h-44z"/><path d="M817 2339.2l22 40h-44z"/><path d="M843.3 2320.4l22 40h-44z"/><path d="M869.6 2317.6l22 40h-44z"/><path d="M895.9 2317.6l22 40h-44z"/><path d="M922.1 2317.6l22 40h-44z"/><path d="M948.4 2325l22 40h-44z"/><path d="M974.7 2335l22 40h-44z"/><path d="M1000.9 2343.4l22 40h-44z"/><path d="M1027.2 2350.6l22 40h-44z"/><path d="M1053.5 2356.7l22 40h-44z"/><path d="M1079.8 2362l22 40h-44z"/><path d="M1106 2366.6l22 40h-44z"/><path d="M1132.3 2370.6l22 40h-44z"/><path d="M1158.6 2374.4l22 40h-44z"/><path d="M1184.9 2377.5l22 40h-44z"/><path d="M1211.1 2379.3l22 40h-44z"/><path d="M1237.4 2381l22 40h-44z"/><path d="M1263.7 2384.6l22 40h-44z"/><path d="M1290 2398.5l22 40h-44z"/><path d="M1316.2 2426.4l22 40h-44z"/><path d="M1342.5 2448.1l22 40h-44z"/><path d="M1368.8 2463.2l22 40h-44z"/><path d="M1395.1 2474.8l22 40h-44z"/><path d="M1421.3 2478.4l22 40h-44z"/><path d="M1447.6 2474.4l22 40h-44z"/><path d="M1473.9 2467.6l22 40h-44z"/><path d="M1500.2 2461.2l22 40h-44z"/><path d="M1526.4 2454.7l22 40h-44z"/><path d="M1552.7 2449.6l22 40h-44z"/><path d="M1579 2445.6l22 40h-44z"/><path d="M1605.3 2442.8l22 40h-44z"/><path d="M1631.5 2442.5l22 40h-44z"/><path d="M1657.8 2443.3l22 40h-44z"/><path d="M1684.1 2444.5l22 40h-44z"/><path d="M1710.4 2446.6l22 40h-44z"/><path d="M1736.6 2449.8l22 40h-44z"/><path d="M1762.9 2453.2l22 40h-44z"/><path d="M1789.2 2456.6l22 40h-44z"/><path d="M1815.5 2460.3l22 40h-44z"/><path d="M1841.7 2464l22 40h-44z"/><path d="M1868 2468l22 40h-44z"/><path d="M1894.3 2472l22 40h-44z"/><path d="M1920.6 2474.8l22 40h-44z"/><path d="M1946.8 2476.5l22 40h-44z"/><path d="M1973.1 2477.9l22 40h-44z"/><path d="M1999.4 2478.4l22 40h-44z"/><path d="M2025.7 2478.4l22 40h-44z"/><path d="M2051.9 2478.4l22 40h-44z"/><path d="M2078.2 2478.4l22 40h-44z"/><path d="M2104.5 2478.2l22 40h-44z"/><path d="M2130.8 2477.6l22 40h-44z"/><path d="M2157 2476.8l22 40h-44z"/><path d="M2183.3 2475.8l22 40h-44z"/><path d="M2209.6 2474.8l22 40h-44z"/><path d="M2235.9 2473.7l22 40h-44z"/><path d="M2262.1 2472.4l22 40h-44z"/><path d="M2288.4 2471l22 40h-44z"/><path d="M2314.7 2469.3l22 40h-44z"/><path d="M2341 2467.6l22 40h-44z"/></g>
<g fill="#3bb06e" clip-path="url(#plotclip)"><path d="M239 2016 265.2 2083.8 291.5 2155.9 317.8 2235.2 344.1 2314.5 370.4 2408.3 396.6 2487.6 422.9 2444.3 449.2 2401.1 475.4 2365 501.7 2339.8 528 2325.8 554.3 2327.2 580.5 2340.2 606.8 2364.2 633.1 2393.1 659.4 2429.3 685.6 2470.5 711.9 2502 738.2 2415.5 764.5 2372.5 790.8 2336.9 817 2293.6 843.3 2270.6 869.6 2251.1 895.9 2230.2 922.1 2221.2 948.4 2218.8 974.7 2218.6 1000.9 2218.8 1027.2 2220.8 1053.5 2229.7 1079.8 2239.6 1106 2248.6 1132.3 2260.9 1158.6 2276.2 1184.9 2294.5 1211.1 2318.2 1237.4 2347.8 1263.7 2378.7 1290 2411.7 1316.2 2444 1342.5 2470.5 1368.8 2490.1 1395.1 2498.4 1421.3 2497.8 1447.6 2487.6 1473.9 2472.8 1500.2 2458.7 1526.4 2450.6 1552.7 2445.8 1579 2443.6 1605.3 2442.3 1631.5 2442.2 1657.8 2442.4 1684.1 2442.9 1710.4 2444.5 1736.6 2447.7 1762.9 2451.5 1789.2 2456.7 1815.5 2463.4 1841.7 2469.6 1868 2474.8 1894.3 2479.7 1920.6 2484 1946.8 2487.9 1973.1 2491.4 1999.4 2493.3 2025.7 2494.1 2051.9 2494.6 2078.2 2494.8 2104.5 2494.6 2130.8 2494 2157 2493.2 2183.3 2492.2 2209.6 2491.2 2235.9 2489.9 2262.1 2488.3 2288.4 2486.4 2314.7 2484.2 2341 2481.8" fill="none" stroke="#3bb06e" stroke-width="9" stroke-linejoin="round"/><path d="M239 2036l22 -40h-44z"/><path d="M265.2 2103.8l22 -40h-44z"/><path d="M291.5 2175.9l22 -40h-44z"/><path d="M317.8 2255.2l22 -40h-44z"/><path d="M344.1 2334.5l22 -40h-44z"/><path d="M370.4 2428.3l22 -40h-44z"/><path d="M396.6 2507.6l22 -40h-44z"/><path d="M422.9 2464.3l22 -40h-44z"/><path d="M449.2 2421.1l22 -40h-44z"/><path d="M475.4 2385l22 -40h-44z"/><path d="M501.7 2359.8l22 -40h-44z"/><path d="M528 2345.8l22 -40h-44z"/><path d="M554.3 2347.2l22 -40h-44z"/><path d="M580.5 2360.2l22 -40h-44z"/><path d="M606.8 2384.2l22 -40h-44z"/><path d="M633.1 2413.1l22 -40h-44z"/><path d="M659.4 2449.3l22 -40h-44z"/><path d="M685.6 2490.5l22 -40h-44z"/><path d="M711.9 2522l22 -40h-44z"/><path d="M738.2 2435.5l22 -40h-44z"/><path d="M764.5 2392.5l22 -40h-44z"/><path d="M790.8 2356.9l22 -40h-44z"/><path d="M817 2313.6l22 -40h-44z"/><path d="M843.3 2290.6l22 -40h-44z"/><path d="M869.6 2271.1l22 -40h-44z"/><path d="M895.9 2250.2l22 -40h-44z"/><path d="M922.1 2241.2l22 -40h-44z"/><path d="M948.4 2238.8l22 -40h-44z"/><path d="M974.7 2238.6l22 -40h-44z"/><path d="M1000.9 2238.8l22 -40h-44z"/><path d="M1027.2 2240.8l22 -40h-44z"/><path d="M1053.5 2249.7l22 -40h-44z"/><path d="M1079.8 2259.6l22 -40h-44z"/><path d="M1106 2268.6l22 -40h-44z"/><path d="M1132.3 2280.9l22 -40h-44z"/><path d="M1158.6 2296.2l22 -40h-44z"/><path d="M1184.9 2314.5l22 -40h-44z"/><path d="M1211.1 2338.2l22 -40h-44z"/><path d="M1237.4 2367.8l22 -40h-44z"/><path d="M1263.7 2398.7l22 -40h-44z"/><path d="M1290 2431.7l22 -40h-44z"/><path d="M1316.2 2464l22 -40h-44z"/><path d="M1342.5 2490.5l22 -40h-44z"/><path d="M1368.8 2510.1l22 -40h-44z"/><path d="M1395.1 2518.4l22 -40h-44z"/><path d="M1421.3 2517.8l22 -40h-44z"/><path d="M1447.6 2507.6l22 -40h-44z"/><path d="M1473.9 2492.8l22 -40h-44z"/><path d="M1500.2 2478.7l22 -40h-44z"/><path d="M1526.4 2470.6l22 -40h-44z"/><path d="M1552.7 2465.8l22 -40h-44z"/><path d="M1579 2463.6l22 -40h-44z"/><path d="M1605.3 2462.3l22 -40h-44z"/><path d="M1631.5 2462.2l22 -40h-44z"/><path d="M1657.8 2462.4l22 -40h-44z"/><path d="M1684.1 2462.9l22 -40h-44z"/><path d="M1710.4 2464.5l22 -40h-44z"/><path d="M1736.6 2467.7l22 -40h-44z"/><path d="M1762.9 2471.5l22 -40h-44z"/><path d="M1789.2 2476.7l22 -40h-44z"/><path d="M1815.5 2483.4l22 -40h-44z"/><path d="M1841.7 2489.6l22 -40h-44z"/><path d="M1868 2494.8l22 -40h-44z"/><path d="M1894.3 2499.7l22 -40h-44z"/><path d="M1920.6 2504l22 -40h-44z"/><path d="M1946.8 2507.9l22 -40h-44z"/><path d="M1973.1 2511.4l22 -40h-44z"/><path d="M1999.4 2513.3l22 -40h-44z"/><path d="M2025.7 2514.1l22 -40h-44z"/><path d="M2051.9 2514.6l22 -40h-44z"/><path d="M2078.2 2514.8l22 -40h-44z"/><path d="M2104.5 2514.6l22 -40h-44z"/><path d="M2130.8 2514l22 -40h-44z"/><path d="M2157 2513.2l22 -40h-44z"/><path d="M2183.3 2512.2l22 -40h-44z"/><path d="M2209.6 2511.2l22 -40h-44z"/><path d="M2235.9 2509.9l22 -40h-44z"/><path d="M2262.1 2508.3l22 -40h-44z"/><path d="M2288.4 2506.4l22 -40h-44z"/><path d="M2314.7 2504.2l22 -40h-44z"/><path d="M2341 2501.8l22 -40h-44z"/></g>
<g fill="#b07ee2" clip-path="url(#plotclip)"><path d="M239 1972.8 265.2 2069.4 291.5 2141.5 317.8 2220.8 344.1 2307.3 370.4 2401.1 396.6 2487.6 422.9 2437.1 449.2 2386.6 475.4 2350.6 501.7 2318.1 528 2297.8 554.3 2298.3 580.5 2311.3 606.8 2334.9 633.1 2367.4 659.4 2411.3 685.6 2460.3 711.9 2494.8 738.2 2393.8 764.5 2343.4 790.8 2293.6 817 2233.8 843.3 2167.2 869.6 2112.1 895.9 2065.5 922.1 2033.8 948.4 2004.5 974.7 1988.8 1000.9 1978 1027.2 1978.7 1053.5 1992 1079.8 2015.7 1106 2039.9 1132.3 2071.7 1158.6 2109.5 1184.9 2148.5 1211.1 2186 1237.4 2224.1 1263.7 2264.8 1290 2311.6 1316.2 2360.7 1342.5 2405.2 1368.8 2446.4 1395.1 2480.7 1421.3 2493.8 1447.6 2481.9 1473.9 2450.9 1500.2 2436.1 1526.4 2423.8 1552.7 2412.5 1579 2404.7 1605.3 2399.6 1631.5 2396.4 1657.8 2396.4 1684.1 2398.2 1710.4 2401.1 1736.6 2407.2 1762.9 2415.5 1789.2 2422.8 1815.5 2430.1 1841.7 2438 1868 2447 1894.3 2458.7 1920.6 2469.6 1946.8 2477.3 1973.1 2484.1 1999.4 2492 2025.7 2498.4 2051.9 2497.1 2078.2 2494.8 2104.5 2492.6 2130.8 2490.1 2157 2487.6 2183.3 2484.9 2209.6 2482.2 2235.9 2479.4 2262.1 2476.8 2288.4 2474.3 2314.7 2471.9 2341 2469.6" fill="none" stroke="#b07ee2" stroke-width="9" stroke-linejoin="round"/><path d="M239 1950.8l18.5 22 -18.5 22 -18.5 -22z"/><path d="M265.2 2047.4l18.5 22 -18.5 22 -18.5 -22z"/><path d="M291.5 2119.5l18.5 22 -18.5 22 -18.5 -22z"/><path d="M317.8 2198.8l18.5 22 -18.5 22 -18.5 -22z"/><path d="M344.1 2285.3l18.5 22 -18.5 22 -18.5 -22z"/><path d="M370.4 2379.1l18.5 22 -18.5 22 -18.5 -22z"/><path d="M396.6 2465.6l18.5 22 -18.5 22 -18.5 -22z"/><path d="M422.9 2415.1l18.5 22 -18.5 22 -18.5 -22z"/><path d="M449.2 2364.6l18.5 22 -18.5 22 -18.5 -22z"/><path d="M475.4 2328.6l18.5 22 -18.5 22 -18.5 -22z"/><path d="M501.7 2296.1l18.5 22 -18.5 22 -18.5 -22z"/><path d="M528 2275.8l18.5 22 -18.5 22 -18.5 -22z"/><path d="M554.3 2276.3l18.5 22 -18.5 22 -18.5 -22z"/><path d="M580.5 2289.3l18.5 22 -18.5 22 -18.5 -22z"/><path d="M606.8 2312.9l18.5 22 -18.5 22 -18.5 -22z"/><path d="M633.1 2345.4l18.5 22 -18.5 22 -18.5 -22z"/><path d="M659.4 2389.3l18.5 22 -18.5 22 -18.5 -22z"/><path d="M685.6 2438.3l18.5 22 -18.5 22 -18.5 -22z"/><path d="M711.9 2472.8l18.5 22 -18.5 22 -18.5 -22z"/><path d="M738.2 2371.8l18.5 22 -18.5 22 -18.5 -22z"/><path d="M764.5 2321.4l18.5 22 -18.5 22 -18.5 -22z"/><path d="M790.8 2271.6l18.5 22 -18.5 22 -18.5 -22z"/><path d="M817 2211.8l18.5 22 -18.5 22 -18.5 -22z"/><path d="M843.3 2145.2l18.5 22 -18.5 22 -18.5 -22z"/><path d="M869.6 2090.1l18.5 22 -18.5 22 -18.5 -22z"/><path d="M895.9 2043.5l18.5 22 -18.5 22 -18.5 -22z"/><path d="M922.1 2011.8l18.5 22 -18.5 22 -18.5 -22z"/><path d="M948.4 1982.5l18.5 22 -18.5 22 -18.5 -22z"/><path d="M974.7 1966.8l18.5 22 -18.5 22 -18.5 -22z"/><path d="M1000.9 1956l18.5 22 -18.5 22 -18.5 -22z"/><path d="M1027.2 1956.7l18.5 22 -18.5 22 -18.5 -22z"/><path d="M1053.5 1970l18.5 22 -18.5 22 -18.5 -22z"/><path d="M1079.8 1993.7l18.5 22 -18.5 22 -18.5 -22z"/><path d="M1106 2017.9l18.5 22 -18.5 22 -18.5 -22z"/><path d="M1132.3 2049.7l18.5 22 -18.5 22 -18.5 -22z"/><path d="M1158.6 2087.5l18.5 22 -18.5 22 -18.5 -22z"/><path d="M1184.9 2126.5l18.5 22 -18.5 22 -18.5 -22z"/><path d="M1211.1 2164l18.5 22 -18.5 22 -18.5 -22z"/><path d="M1237.4 2202.1l18.5 22 -18.5 22 -18.5 -22z"/><path d="M1263.7 2242.8l18.5 22 -18.5 22 -18.5 -22z"/><path d="M1290 2289.6l18.5 22 -18.5 22 -18.5 -22z"/><path d="M1316.2 2338.7l18.5 22 -18.5 22 -18.5 -22z"/><path d="M1342.5 2383.2l18.5 22 -18.5 22 -18.5 -22z"/><path d="M1368.8 2424.4l18.5 22 -18.5 22 -18.5 -22z"/><path d="M1395.1 2458.7l18.5 22 -18.5 22 -18.5 -22z"/><path d="M1421.3 2471.8l18.5 22 -18.5 22 -18.5 -22z"/><path d="M1447.6 2459.9l18.5 22 -18.5 22 -18.5 -22z"/><path d="M1473.9 2428.9l18.5 22 -18.5 22 -18.5 -22z"/><path d="M1500.2 2414.1l18.5 22 -18.5 22 -18.5 -22z"/><path d="M1526.4 2401.8l18.5 22 -18.5 22 -18.5 -22z"/><path d="M1552.7 2390.5l18.5 22 -18.5 22 -18.5 -22z"/><path d="M1579 2382.7l18.5 22 -18.5 22 -18.5 -22z"/><path d="M1605.3 2377.6l18.5 22 -18.5 22 -18.5 -22z"/><path d="M1631.5 2374.4l18.5 22 -18.5 22 -18.5 -22z"/><path d="M1657.8 2374.4l18.5 22 -18.5 22 -18.5 -22z"/><path d="M1684.1 2376.2l18.5 22 -18.5 22 -18.5 -22z"/><path d="M1710.4 2379.1l18.5 22 -18.5 22 -18.5 -22z"/><path d="M1736.6 2385.2l18.5 22 -18.5 22 -18.5 -22z"/><path d="M1762.9 2393.5l18.5 22 -18.5 22 -18.5 -22z"/><path d="M1789.2 2400.8l18.5 22 -18.5 22 -18.5 -22z"/><path d="M1815.5 2408.1l18.5 22 -18.5 22 -18.5 -22z"/><path d="M1841.7 2416l18.5 22 -18.5 22 -18.5 -22z"/><path d="M1868 2425l18.5 22 -18.5 22 -18.5 -22z"/><path d="M1894.3 2436.7l18.5 22 -18.5 22 -18.5 -22z"/><path d="M1920.6 2447.6l18.5 22 -18.5 22 -18.5 -22z"/><path d="M1946.8 2455.3l18.5 22 -18.5 22 -18.5 -22z"/><path d="M1973.1 2462.1l18.5 22 -18.5 22 -18.5 -22z"/><path d="M1999.4 2470l18.5 22 -18.5 22 -18.5 -22z"/><path d="M2025.7 2476.4l18.5 22 -18.5 22 -18.5 -22z"/><path d="M2051.9 2475.1l18.5 22 -18.5 22 -18.5 -22z"/><path d="M2078.2 2472.8l18.5 22 -18.5 22 -18.5 -22z"/><path d="M2104.5 2470.6l18.5 22 -18.5 22 -18.5 -22z"/><path d="M2130.8 2468.1l18.5 22 -18.5 22 -18.5 -22z"/><path d="M2157 2465.6l18.5 22 -18.5 22 -18.5 -22z"/><path d="M2183.3 2462.9l18.5 22 -18.5 22 -18.5 -22z"/><path d="M2209.6 2460.2l18.5 22 -18.5 22 -18.5 -22z"/><path d="M2235.9 2457.4l18.5 22 -18.5 22 -18.5 -22z"/><path d="M2262.1 2454.8l18.5 22 -18.5 22 -18.5 -22z"/><path d="M2288.4 2452.3l18.5 22 -18.5 22 -18.5 -22z"/><path d="M2314.7 2449.9l18.5 22 -18.5 22 -18.5 -22z"/><path d="M2341 2447.6l18.5 22 -18.5 22 -18.5 -22z"/></g>
<g fill="#d5a114" clip-path="url(#plotclip)"><path d="M239 1925.2 265.2 2018.9 291.5 2127.1 317.8 2228 344.1 2321.8 370.4 2415.5 396.6 2499.7 422.9 2409.5 449.2 2354.3 475.4 2312.9 501.7 2284 528 2266.3 554.3 2265.7 580.5 2279.6 606.8 2303.9 633.1 2348.1 659.4 2401.2 685.6 2458 711.9 2457.2 738.2 2361.2 764.5 2278.5 790.8 2200.9 817 2108.6 843.3 2026 869.6 1965.2 895.9 1908.2 922.1 1853 948.4 1818.1 974.7 1799 1000.9 1788.8 1027.2 1785.4 1053.5 1791.1 1079.8 1807.3 1106 1835.1 1132.3 1869.6 1158.6 1915.3 1184.9 1973.5 1211.1 2042.7 1237.4 2105.3 1263.7 2166.3 1290 2225.5 1316.2 2285.7 1342.5 2352.1 1368.8 2414.4 1395.1 2467.7 1421.3 2493.6 1447.6 2468.6 1473.9 2429.2 1500.2 2410.1 1526.4 2393.5 1552.7 2378.4 1579 2366.3 1605.3 2355.1 1631.5 2350.6 1657.8 2351.8 1684.1 2354.2 1710.4 2358.7 1736.6 2365 1762.9 2371.9 1789.2 2379.4 1815.5 2386.8 1841.7 2394.5 1868 2403.9 1894.3 2416.7 1920.6 2429.9 1946.8 2441.2 1973.1 2451.9 1999.4 2462.8 2025.7 2473.9 2051.9 2483.7 2078.2 2491.2 2104.5 2487.6 2130.8 2480.9 2157 2472.8 2183.3 2467.1 2209.6 2463 2235.9 2459.3 2262.1 2455.1 2288.4 2450.3 2314.7 2444.9 2341 2439.3" fill="none" stroke="#d5a114" stroke-width="9" stroke-linejoin="round"/><path d="M220 1925.2l38 -23v46z"/><path d="M246.2 2018.9l38 -23v46z"/><path d="M272.5 2127.1l38 -23v46z"/><path d="M298.8 2228l38 -23v46z"/><path d="M325.1 2321.8l38 -23v46z"/><path d="M351.4 2415.5l38 -23v46z"/><path d="M377.6 2499.7l38 -23v46z"/><path d="M403.9 2409.5l38 -23v46z"/><path d="M430.2 2354.3l38 -23v46z"/><path d="M456.4 2312.9l38 -23v46z"/><path d="M482.7 2284l38 -23v46z"/><path d="M509 2266.3l38 -23v46z"/><path d="M535.3 2265.7l38 -23v46z"/><path d="M561.5 2279.6l38 -23v46z"/><path d="M587.8 2303.9l38 -23v46z"/><path d="M614.1 2348.1l38 -23v46z"/><path d="M640.4 2401.2l38 -23v46z"/><path d="M666.6 2458l38 -23v46z"/><path d="M692.9 2457.2l38 -23v46z"/><path d="M719.2 2361.2l38 -23v46z"/><path d="M745.5 2278.5l38 -23v46z"/><path d="M771.8 2200.9l38 -23v46z"/><path d="M798 2108.6l38 -23v46z"/><path d="M824.3 2026l38 -23v46z"/><path d="M850.6 1965.2l38 -23v46z"/><path d="M876.9 1908.2l38 -23v46z"/><path d="M903.1 1853l38 -23v46z"/><path d="M929.4 1818.1l38 -23v46z"/><path d="M955.7 1799l38 -23v46z"/><path d="M981.9 1788.8l38 -23v46z"/><path d="M1008.2 1785.4l38 -23v46z"/><path d="M1034.5 1791.1l38 -23v46z"/><path d="M1060.8 1807.3l38 -23v46z"/><path d="M1087 1835.1l38 -23v46z"/><path d="M1113.3 1869.6l38 -23v46z"/><path d="M1139.6 1915.3l38 -23v46z"/><path d="M1165.9 1973.5l38 -23v46z"/><path d="M1192.1 2042.7l38 -23v46z"/><path d="M1218.4 2105.3l38 -23v46z"/><path d="M1244.7 2166.3l38 -23v46z"/><path d="M1271 2225.5l38 -23v46z"/><path d="M1297.2 2285.7l38 -23v46z"/><path d="M1323.5 2352.1l38 -23v46z"/><path d="M1349.8 2414.4l38 -23v46z"/><path d="M1376.1 2467.7l38 -23v46z"/><path d="M1402.3 2493.6l38 -23v46z"/><path d="M1428.6 2468.6l38 -23v46z"/><path d="M1454.9 2429.2l38 -23v46z"/><path d="M1481.2 2410.1l38 -23v46z"/><path d="M1507.4 2393.5l38 -23v46z"/><path d="M1533.7 2378.4l38 -23v46z"/><path d="M1560 2366.3l38 -23v46z"/><path d="M1586.3 2355.1l38 -23v46z"/><path d="M1612.5 2350.6l38 -23v46z"/><path d="M1638.8 2351.8l38 -23v46z"/><path d="M1665.1 2354.2l38 -23v46z"/><path d="M1691.4 2358.7l38 -23v46z"/><path d="M1717.6 2365l38 -23v46z"/><path d="M1743.9 2371.9l38 -23v46z"/><path d="M1770.2 2379.4l38 -23v46z"/><path d="M1796.5 2386.8l38 -23v46z"/><path d="M1822.7 2394.5l38 -23v46z"/><path d="M1849 2403.9l38 -23v46z"/><path d="M1875.3 2416.7l38 -23v46z"/><path d="M1901.6 2429.9l38 -23v46z"/><path d="M1927.8 2441.2l38 -23v46z"/><path d="M1954.1 2451.9l38 -23v46z"/><path d="M1980.4 2462.8l38 -23v46z"/><path d="M2006.7 2473.9l38 -23v46z"/><path d="M2032.9 2483.7l38 -23v46z"/><path d="M2059.2 2491.2l38 -23v46z"/><path d="M2085.5 2487.6l38 -23v46z"/><path d="M2111.8 2480.9l38 -23v46z"/><path d="M2138 2472.8l38 -23v46z"/><path d="M2164.3 2467.1l38 -23v46z"/><path d="M2190.6 2463l38 -23v46z"/><path d="M2216.9 2459.3l38 -23v46z"/><path d="M2243.1 2455.1l38 -23v46z"/><path d="M2269.4 2450.3l38 -23v46z"/><path d="M2295.7 2444.9l38 -23v46z"/><path d="M2322 2439.3l38 -23v46z"/></g>
<g fill="#555555"><path d="M273 1839H448" stroke="#555555" stroke-width="11" stroke-linecap="round"/><rect x="345" y="1823.5" width="31" height="31"/></g><text x="472" y="1866" font-size="68" font-weight="bold" textLength="387.5" lengthAdjust="spacingAndGlyphs"><tspan font-style="italic">σ</tspan>=<tspan font-weight="normal">1×10</tspan><tspan dy="-27" font-size="46" font-weight="normal">0</tspan><tspan dy="27">S/m</tspan></text>
<g fill="#ee4040"><path d="M273 1954.6H448" stroke="#ee4040" stroke-width="11" stroke-linecap="round"/><circle cx="360.5" cy="1954.6" r="16"/></g><text x="472" y="1981.8" font-size="68" font-weight="bold" textLength="387.5" lengthAdjust="spacingAndGlyphs"><tspan font-style="italic">σ</tspan>=<tspan font-weight="normal">5×10</tspan><tspan dy="-27" font-size="46" font-weight="normal">3</tspan><tspan dy="27">S/m</tspan></text>
<g fill="#1f70e0"><path d="M273 2070.5H448" stroke="#1f70e0" stroke-width="11" stroke-linecap="round"/><path d="M360.5 2050.5l22 40h-44z"/></g><text x="472" y="2097.7" font-size="68" font-weight="bold" textLength="387.5" lengthAdjust="spacingAndGlyphs"><tspan font-style="italic">σ</tspan>=<tspan font-weight="normal">1×10</tspan><tspan dy="-27" font-size="46" font-weight="normal">4</tspan><tspan dy="27">S/m</tspan></text>
<g fill="#3bb06e"><path d="M1580 1895H1757" stroke="#3bb06e" stroke-width="11" stroke-linecap="round"/><path d="M1668.5 1915l22 -40h-44z"/></g><text x="1776" y="1918.4" font-size="68" font-weight="bold" textLength="392" lengthAdjust="spacingAndGlyphs"><tspan font-style="italic">σ</tspan>=<tspan font-weight="normal">2×10</tspan><tspan dy="-27" font-size="46" font-weight="normal">4</tspan><tspan dy="27">S/m</tspan></text>
<g fill="#b07ee2"><path d="M1580 2010H1757" stroke="#b07ee2" stroke-width="11" stroke-linecap="round"/><path d="M1668.5 1988l18.5 22 -18.5 22 -18.5 -22z"/></g><text x="1776" y="2034" font-size="68" font-weight="bold" textLength="446" lengthAdjust="spacingAndGlyphs"><tspan font-style="italic">σ</tspan>=<tspan font-weight="normal">4.5×10</tspan><tspan dy="-27" font-size="46" font-weight="normal">4</tspan><tspan dy="27">S/m</tspan></text>
<g fill="#d5a114"><path d="M1580 2126H1757" stroke="#d5a114" stroke-width="11" stroke-linecap="round"/><path d="M1649.5 2126l38 -23v46z"/></g><text x="1776" y="2149" font-size="68" font-weight="bold" textLength="446" lengthAdjust="spacingAndGlyphs"><tspan font-style="italic">σ</tspan>=<tspan font-weight="normal">1.5×10</tspan><tspan dy="-27" font-size="46" font-weight="normal">5</tspan><tspan dy="27">S/m</tspan></text>
<text x="458.5" y="2601.5" font-size="86" font-weight="bold" textLength="82.6" lengthAdjust="spacingAndGlyphs">15</text><text x="854.5" y="2601.5" font-size="86" font-weight="bold" textLength="82.8" lengthAdjust="spacingAndGlyphs">30</text><text x="1250.5" y="2601.5" font-size="86" font-weight="bold" textLength="80.8" lengthAdjust="spacingAndGlyphs">45</text><text x="1642.7" y="2601.5" font-size="86" font-weight="bold" textLength="82.8" lengthAdjust="spacingAndGlyphs">60</text><text x="2034.8" y="2601.5" font-size="86" font-weight="bold" textLength="84.9" lengthAdjust="spacingAndGlyphs">75</text><text x="134" y="2528.5" font-size="86" font-weight="bold" textLength="97.9" lengthAdjust="spacingAndGlyphs">0.0</text><text x="133.9" y="2384.3" font-size="86" font-weight="bold" textLength="98.9" lengthAdjust="spacingAndGlyphs">0.2</text><text x="134" y="2240.1" font-size="86" font-weight="bold" textLength="96" lengthAdjust="spacingAndGlyphs">0.4</text><text x="134" y="2095.9" font-size="86" font-weight="bold" textLength="97" lengthAdjust="spacingAndGlyphs">0.6</text><text x="134" y="1951.7" font-size="86" font-weight="bold" textLength="97.9" lengthAdjust="spacingAndGlyphs">0.8</text><text x="130.1" y="1807.5" font-size="86" font-weight="bold" textLength="101.9" lengthAdjust="spacingAndGlyphs">1.0</text>
<text x="1556" y="2319" font-size="80" textLength="476" lengthAdjust="spacingAndGlyphs"><tspan font-style="italic">f</tspan><tspan font-size="52" dy="14">L</tspan><tspan dy="-14">= 0.65THz</tspan></text>
<text x="719.5" y="2692.5" font-size="109" font-weight="bold" textLength="453.4" lengthAdjust="spacingAndGlyphs">Reflection</text><text x="1196.5" y="2692.5" font-size="109" font-weight="bold" textLength="267.7" lengthAdjust="spacingAndGlyphs">angle,</text><text x="1492.8" y="2692.5" font-size="103" font-style="italic" font-weight="bold" textLength="51.1" lengthAdjust="spacingAndGlyphs">θ</text><text x="1538.2" y="2703" font-size="62" font-style="italic" font-weight="bold" textLength="19.9" lengthAdjust="spacingAndGlyphs">r</text><text x="1555.8" y="2692.5" font-size="109" font-weight="bold" textLength="25.5" lengthAdjust="spacingAndGlyphs">/</text><text x="1582.9" y="2692.5" font-size="109" font-weight="bold" textLength="189.7" lengthAdjust="spacingAndGlyphs">Deg</text>
<text transform="translate(114.8 2700.4) rotate(-90)" x="-1.9" y="0" font-size="118" font-weight="bold" textLength="1021.6" lengthAdjust="spacingAndGlyphs">Normalized intensity</text>
<text x="230" y="2700" font-size="124">(g)</text>
</svg></body></html>
